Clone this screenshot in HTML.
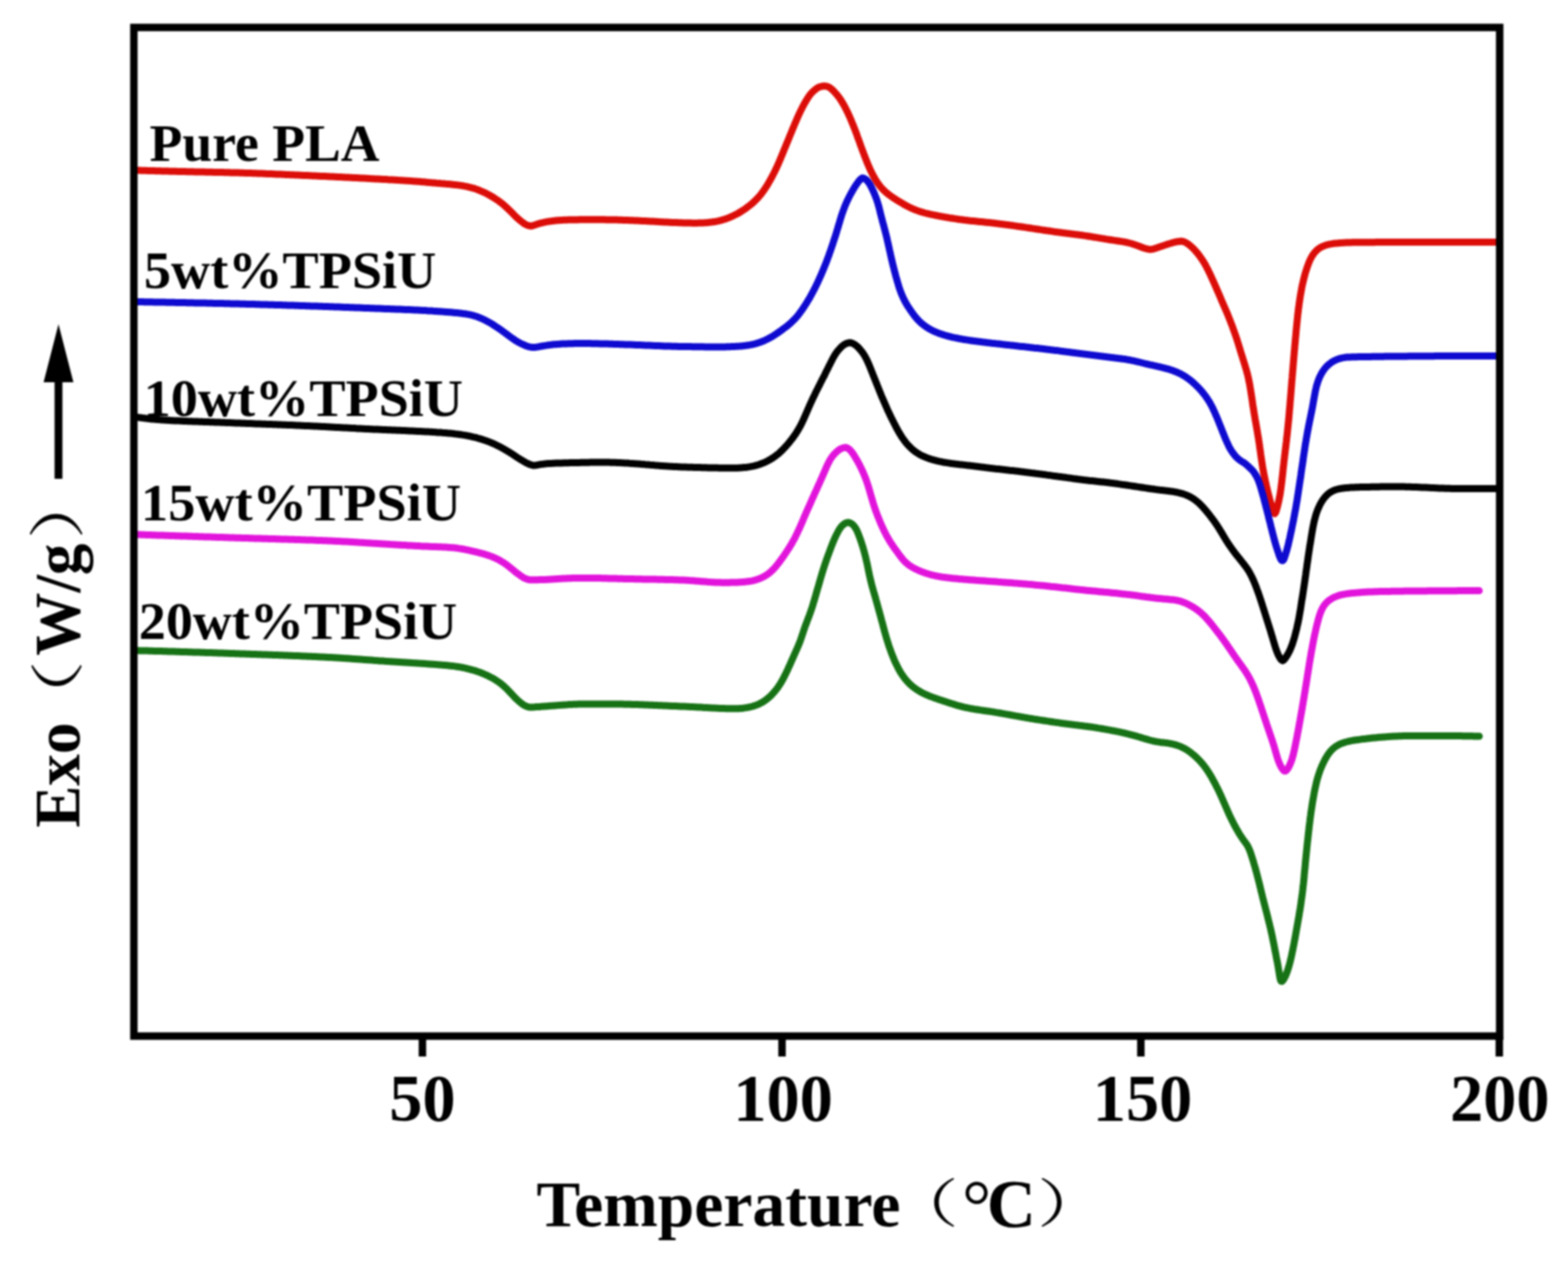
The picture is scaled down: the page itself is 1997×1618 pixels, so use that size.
<!DOCTYPE html>
<html><head><meta charset="utf-8"><title>DSC curves</title>
<style>
html,body{margin:0;padding:0;background:#fff;overflow:hidden;}
svg{display:block;filter:blur(0.9px);}
.t{font-family:'Liberation Serif','Times New Roman',serif;font-weight:bold;fill:#000;}
.c{font-family:'Liberation Serif','Noto Serif CJK SC',serif;font-weight:normal;fill:#000;}
</style></head><body>
<svg width="1997" height="1618" viewBox="0 0 1997 1618">
<rect x="0" y="0" width="1997" height="1618" fill="#fff"/>
<g fill="none" stroke-width="9" stroke-linecap="round" stroke-linejoin="round">
<path d="M174.0,217.0 176.0,217.1 178.0,217.1 180.0,217.2 182.0,217.2 184.0,217.3 186.0,217.3 188.0,217.4 190.0,217.5 192.0,217.5 194.0,217.6 196.0,217.6 198.0,217.7 200.0,217.7 202.0,217.8 204.0,217.8 206.0,217.9 208.0,217.9 210.0,218.0 212.0,218.0 214.0,218.1 216.0,218.2 218.0,218.2 220.0,218.3 222.0,218.3 224.0,218.3 226.0,218.4 228.0,218.4 230.0,218.5 232.0,218.5 234.0,218.6 236.0,218.6 238.0,218.7 240.0,218.7 242.0,218.8 244.0,218.8 246.0,218.8 248.0,218.9 250.0,218.9 252.0,219.0 254.0,219.0 256.0,219.0 258.0,219.1 260.0,219.1 262.0,219.2 264.0,219.2 266.0,219.2 268.0,219.3 270.0,219.3 272.0,219.4 274.0,219.4 276.0,219.4 278.0,219.5 280.0,219.5 282.0,219.6 284.0,219.6 286.0,219.7 288.0,219.7 290.0,219.8 292.0,219.8 294.0,219.9 296.0,219.9 298.0,220.0 300.0,220.0 302.0,220.1 304.0,220.1 306.0,220.2 308.0,220.2 310.0,220.3 312.0,220.4 314.0,220.4 316.0,220.5 318.0,220.6 320.0,220.6 322.0,220.7 324.0,220.8 325.9,220.8 327.9,220.9 329.9,221.0 331.9,221.1 333.9,221.1 335.9,221.2 337.9,221.3 339.9,221.4 341.9,221.5 343.9,221.5 345.9,221.6 347.9,221.7 349.9,221.8 351.9,221.9 353.9,222.0 355.9,222.0 357.9,222.1 359.9,222.2 361.9,222.3 363.9,222.4 365.9,222.5 367.9,222.6 369.9,222.7 371.9,222.7 373.9,222.8 375.9,222.9 377.9,223.0 379.9,223.1 381.9,223.2 383.9,223.3 385.9,223.4 387.9,223.5 389.9,223.5 391.9,223.6 393.9,223.7 395.9,223.8 397.9,223.9 399.9,224.0 401.9,224.1 403.9,224.2 405.9,224.3 407.9,224.4 409.9,224.5 411.9,224.5 413.9,224.6 415.9,224.7 417.9,224.8 419.9,224.9 421.9,225.0 423.9,225.1 425.9,225.2 427.9,225.3 429.8,225.4 431.8,225.5 433.8,225.6 435.8,225.7 437.8,225.8 439.8,225.9 441.8,226.0 443.8,226.1 445.8,226.2 447.8,226.3 449.8,226.4 451.8,226.5 453.8,226.6 455.8,226.7 457.8,226.8 459.8,226.9 461.8,227.0 463.8,227.1 465.8,227.2 467.8,227.3 469.8,227.4 471.8,227.6 473.8,227.7 475.8,227.8 477.8,227.9 479.8,228.0 481.8,228.1 483.8,228.2 485.8,228.3 487.8,228.4 489.8,228.5 491.8,228.6 493.8,228.8 495.8,228.9 497.8,229.0 499.8,229.1 501.7,229.2 503.7,229.3 505.7,229.4 507.7,229.6 509.7,229.7 511.7,229.8 513.7,229.9 515.7,230.1 517.7,230.2 519.7,230.3 521.7,230.4 523.7,230.6 525.7,230.7 527.7,230.9 529.7,231.0 531.7,231.2 533.7,231.3 535.7,231.5 537.7,231.7 539.7,231.8 541.6,232.0 543.6,232.2 545.6,232.4 547.6,232.6 549.6,232.7 551.6,232.9 553.6,233.1 555.6,233.3 557.6,233.4 559.6,233.6 561.6,233.8 563.6,233.9 565.6,234.1 567.5,234.3 569.5,234.4 571.5,234.6 573.5,234.8 575.5,235.0 577.5,235.2 579.5,235.4 581.5,235.6 583.5,235.9 585.4,236.1 587.4,236.4 589.4,236.7 591.4,237.1 593.3,237.4 595.3,237.9 597.2,238.3 599.2,238.8 601.1,239.3 603.0,239.8 604.9,240.4 606.8,241.1 608.6,241.8 610.5,242.5 612.3,243.3 614.2,244.1 616.0,244.9 617.8,245.7 619.6,246.6 621.3,247.6 623.1,248.5 624.8,249.5 626.6,250.5 628.3,251.5 630.0,252.6 631.6,253.7 633.3,254.8 634.9,255.9 636.5,257.1 638.1,258.3 639.7,259.6 641.2,260.8 642.7,262.1 644.2,263.5 645.7,264.8 647.1,266.2 648.6,267.6 650.0,269.0 651.4,270.4 652.8,271.8 654.2,273.2 655.6,274.7 657.0,276.1 658.4,277.4 659.9,278.8 661.4,280.0 662.9,281.3 664.4,282.5 666.0,283.7 667.6,284.9 669.3,285.8 671.1,286.7 673.0,287.4 674.9,287.8 676.9,287.9 678.8,287.4 680.7,286.8 682.6,286.1 684.5,285.5 686.4,284.9 688.3,284.4 690.2,283.9 692.2,283.5 694.1,283.0 696.1,282.6 698.0,282.3 700.0,281.9 702.0,281.7 703.9,281.4 705.9,281.2 707.9,281.0 709.9,280.8 711.9,280.7 713.9,280.5 715.9,280.4 717.9,280.3 719.9,280.2 721.9,280.2 723.9,280.1 725.9,280.0 727.9,280.0 729.9,280.0 731.9,279.9 733.9,279.9 735.9,279.9 737.9,279.8 739.9,279.8 741.9,279.8 743.9,279.8 745.9,279.8 747.9,279.8 749.9,279.8 751.9,279.8 753.9,279.8 755.9,279.8 757.9,279.8 759.9,279.8 761.9,279.8 763.9,279.8 765.9,279.8 767.9,279.8 769.9,279.8 771.9,279.9 773.9,279.9 775.9,279.9 777.9,279.9 779.9,280.0 781.9,280.0 783.9,280.1 785.9,280.1 787.9,280.2 789.9,280.3 791.9,280.3 793.9,280.4 795.9,280.5 797.9,280.5 799.9,280.6 801.9,280.7 803.9,280.8 805.9,280.8 807.9,280.9 809.9,281.0 811.9,281.1 813.9,281.2 815.8,281.3 817.8,281.4 819.8,281.5 821.8,281.6 823.8,281.7 825.8,281.8 827.8,281.9 829.8,282.0 831.8,282.1 833.8,282.2 835.8,282.3 837.8,282.4 839.8,282.6 841.8,282.7 843.8,282.8 845.8,282.9 847.8,283.0 849.8,283.1 851.8,283.2 853.8,283.3 855.8,283.4 857.8,283.5 859.8,283.6 861.8,283.6 863.8,283.7 865.8,283.8 867.8,283.8 869.8,283.9 871.8,284.0 873.8,284.0 875.8,284.1 877.8,284.1 879.8,284.1 881.8,284.2 883.8,284.2 885.8,284.2 887.8,284.2 889.8,284.1 891.8,284.1 893.8,284.0 895.8,283.9 897.8,283.8 899.7,283.7 901.7,283.5 903.7,283.3 905.7,283.1 907.7,282.8 909.7,282.5 911.6,282.2 913.6,281.8 915.5,281.4 917.5,280.9 919.4,280.4 921.3,279.8 923.2,279.2 925.1,278.6 926.9,277.9 928.8,277.2 930.6,276.4 932.4,275.6 934.2,274.7 936.0,273.8 937.8,272.9 939.6,272.0 941.3,271.0 943.0,270.0 944.7,268.9 946.4,267.8 948.1,266.7 949.7,265.6 951.3,264.4 952.9,263.2 954.5,262.0 956.0,260.8 957.6,259.5 959.1,258.2 960.5,256.8 962.0,255.4 963.4,254.0 964.7,252.6 966.1,251.1 967.4,249.6 968.7,248.1 969.9,246.5 971.1,244.9 972.3,243.3 973.4,241.7 974.5,240.0 975.6,238.4 976.7,236.7 977.7,235.0 978.7,233.2 979.7,231.5 980.7,229.8 981.7,228.0 982.6,226.3 983.6,224.5 984.5,222.7 985.4,221.0 986.3,219.2 987.2,217.4 988.1,215.6 988.9,213.8 989.8,212.0 990.6,210.1 991.4,208.3 992.2,206.5 993.0,204.6 993.8,202.8 994.5,201.0 995.3,199.1 996.1,197.3 996.8,195.4 997.6,193.6 998.3,191.7 999.1,189.8 999.9,188.0 1000.6,186.1 1001.4,184.3 1002.1,182.4 1002.9,180.6 1003.7,178.7 1004.4,176.9 1005.2,175.0 1005.9,173.2 1006.7,171.3 1007.5,169.5 1008.2,167.6 1009.0,165.8 1009.7,163.9 1010.5,162.1 1011.3,160.2 1012.0,158.4 1012.8,156.6 1013.6,154.7 1014.4,152.9 1015.2,151.0 1016.0,149.2 1016.8,147.4 1017.6,145.6 1018.5,143.8 1019.3,142.0 1020.2,140.2 1021.1,138.4 1022.0,136.6 1023.0,134.8 1023.9,133.1 1024.9,131.3 1025.9,129.6 1026.9,127.9 1027.9,126.2 1029.0,124.5 1030.1,122.9 1031.2,121.3 1032.5,119.8 1033.7,118.3 1035.1,116.9 1036.5,115.7 1037.9,114.4 1039.4,113.2 1041.0,112.1 1042.7,111.2 1044.6,110.5 1046.5,110.0 1048.5,109.7 1050.4,109.6 1052.4,109.9 1054.3,110.4 1056.1,111.3 1057.7,112.3 1059.2,113.6 1060.6,114.9 1062.0,116.3 1063.3,117.7 1064.6,119.2 1065.9,120.6 1067.1,122.2 1068.3,123.8 1069.5,125.4 1070.6,127.0 1071.7,128.7 1072.7,130.4 1073.7,132.1 1074.7,133.8 1075.7,135.6 1076.6,137.4 1077.5,139.1 1078.4,140.9 1079.3,142.7 1080.1,144.5 1081.0,146.4 1081.8,148.2 1082.6,150.0 1083.4,151.8 1084.2,153.7 1084.9,155.5 1085.7,157.4 1086.5,159.2 1087.2,161.1 1087.9,162.9 1088.7,164.8 1089.4,166.7 1090.1,168.5 1090.8,170.4 1091.5,172.3 1092.1,174.2 1092.8,176.1 1093.5,177.9 1094.2,179.8 1094.9,181.7 1095.5,183.6 1096.2,185.5 1096.9,187.3 1097.6,189.2 1098.3,191.1 1099.0,193.0 1099.7,194.8 1100.4,196.7 1101.1,198.6 1101.8,200.4 1102.5,202.3 1103.3,204.2 1104.0,206.0 1104.7,207.9 1105.5,209.7 1106.3,211.6 1107.1,213.4 1107.9,215.2 1108.7,217.0 1109.6,218.8 1110.5,220.6 1111.4,222.4 1112.4,224.2 1113.3,225.9 1114.3,227.6 1115.3,229.4 1116.4,231.0 1117.5,232.7 1118.6,234.3 1119.8,235.9 1121.1,237.5 1122.3,239.0 1123.7,240.5 1125.0,241.9 1126.5,243.3 1127.9,244.6 1129.4,245.9 1131.0,247.1 1132.6,248.4 1134.2,249.5 1135.8,250.7 1137.4,251.8 1139.1,252.9 1140.8,254.0 1142.5,255.1 1144.2,256.1 1145.9,257.2 1147.6,258.2 1149.3,259.2 1151.0,260.2 1152.8,261.2 1154.5,262.2 1156.3,263.1 1158.1,264.0 1159.9,264.8 1161.7,265.7 1163.5,266.5 1165.4,267.2 1167.2,267.9 1169.1,268.6 1171.0,269.3 1172.9,269.9 1174.8,270.4 1176.7,271.0 1178.6,271.5 1180.6,272.0 1182.5,272.4 1184.5,272.9 1186.4,273.3 1188.4,273.7 1190.3,274.1 1192.3,274.5 1194.3,274.9 1196.2,275.3 1198.2,275.6 1200.2,276.0 1202.1,276.3 1204.1,276.7 1206.1,277.0 1208.0,277.4 1210.0,277.7 1212.0,278.0 1214.0,278.3 1215.9,278.6 1217.9,278.9 1219.9,279.2 1221.9,279.5 1223.9,279.7 1225.8,280.0 1227.8,280.3 1229.8,280.5 1231.8,280.7 1233.8,281.0 1235.8,281.2 1237.8,281.4 1239.7,281.6 1241.7,281.8 1243.7,282.0 1245.7,282.2 1247.7,282.4 1249.7,282.6 1251.7,282.8 1253.7,283.0 1255.7,283.2 1257.7,283.4 1259.6,283.6 1261.6,283.8 1263.6,284.1 1265.6,284.3 1267.6,284.5 1269.6,284.8 1271.6,285.0 1273.5,285.3 1275.5,285.5 1277.5,285.8 1279.5,286.0 1281.5,286.3 1283.5,286.5 1285.4,286.8 1287.4,287.1 1289.4,287.3 1291.4,287.6 1293.4,287.9 1295.4,288.2 1297.3,288.4 1299.3,288.7 1301.3,289.0 1303.3,289.3 1305.3,289.6 1307.2,289.9 1309.2,290.2 1311.2,290.5 1313.2,290.8 1315.1,291.1 1317.1,291.4 1319.1,291.7 1321.1,292.0 1323.1,292.3 1325.0,292.6 1327.0,292.9 1329.0,293.2 1331.0,293.5 1332.9,293.8 1334.9,294.0 1336.9,294.3 1338.9,294.6 1340.9,294.9 1342.8,295.2 1344.8,295.4 1346.8,295.7 1348.8,295.9 1350.8,296.2 1352.8,296.5 1354.7,296.7 1356.7,297.0 1358.7,297.2 1360.7,297.5 1362.7,297.7 1364.7,298.0 1366.6,298.2 1368.6,298.5 1370.6,298.7 1372.6,299.0 1374.6,299.3 1376.6,299.6 1378.5,299.8 1380.5,300.1 1382.5,300.4 1384.5,300.7 1386.4,301.0 1388.4,301.3 1390.4,301.6 1392.4,302.0 1394.3,302.3 1396.3,302.6 1398.3,302.9 1400.3,303.3 1402.2,303.6 1404.2,303.9 1406.2,304.2 1408.2,304.6 1410.1,304.9 1412.1,305.2 1414.1,305.5 1416.1,305.8 1418.0,306.1 1420.0,306.4 1422.0,306.7 1424.0,307.0 1425.9,307.3 1427.9,307.6 1429.9,307.9 1431.9,308.2 1433.8,308.6 1435.8,309.0 1437.7,309.5 1439.6,310.0 1441.5,310.5 1443.4,311.1 1445.3,311.8 1447.2,312.4 1449.0,313.1 1450.9,313.7 1452.8,314.5 1454.6,315.2 1456.5,315.9 1458.4,316.5 1460.3,317.0 1462.3,317.4 1464.2,317.7 1466.2,317.7 1468.2,317.3 1470.1,316.8 1472.0,316.2 1473.9,315.6 1475.8,314.9 1477.7,314.3 1479.6,313.6 1481.5,313.0 1483.3,312.4 1485.2,311.7 1487.1,311.1 1489.0,310.5 1490.9,310.0 1492.8,309.4 1494.8,308.9 1496.7,308.4 1498.6,308.0 1500.6,307.7 1502.6,307.5 1504.6,307.3 1506.6,307.6 1508.4,308.2 1510.2,309.1 1512.0,310.1 1513.6,311.2 1515.1,312.4 1516.6,313.7 1518.0,315.0 1519.5,316.4 1520.9,317.8 1522.2,319.2 1523.5,320.7 1524.8,322.2 1526.1,323.8 1527.3,325.4 1528.4,327.0 1529.6,328.6 1530.7,330.3 1531.8,331.9 1532.9,333.6 1533.9,335.3 1534.9,337.1 1535.9,338.8 1536.8,340.6 1537.7,342.3 1538.6,344.1 1539.5,345.9 1540.4,347.7 1541.2,349.5 1542.1,351.3 1542.9,353.1 1543.7,355.0 1544.6,356.8 1545.4,358.6 1546.2,360.4 1547.0,362.3 1547.8,364.1 1548.6,365.9 1549.4,367.8 1550.2,369.6 1551.0,371.4 1551.8,373.3 1552.6,375.1 1553.4,376.9 1554.2,378.8 1554.9,380.6 1555.7,382.5 1556.5,384.3 1557.3,386.1 1558.1,388.0 1558.9,389.8 1559.7,391.6 1560.5,393.5 1561.3,395.3 1562.1,397.1 1562.9,399.0 1563.6,400.8 1564.4,402.7 1565.1,404.5 1565.9,406.4 1566.6,408.3 1567.3,410.1 1568.0,412.0 1568.8,413.9 1569.5,415.7 1570.1,417.6 1570.8,419.5 1571.5,421.4 1572.2,423.3 1572.8,425.1 1573.5,427.0 1574.1,428.9 1574.8,430.8 1575.4,432.7 1576.0,434.6 1576.6,436.5 1577.2,438.4 1577.8,440.4 1578.4,442.3 1579.0,444.2 1579.5,446.1 1580.1,448.0 1580.7,449.9 1581.3,451.8 1581.9,453.7 1582.5,455.6 1583.1,457.6 1583.7,459.5 1584.3,461.4 1584.9,463.3 1585.5,465.2 1586.0,467.1 1586.6,469.0 1587.2,470.9 1587.7,472.9 1588.2,474.8 1588.8,476.7 1589.2,478.7 1589.7,480.6 1590.1,482.5 1590.5,484.5 1590.9,486.5 1591.3,488.4 1591.7,490.4 1592.0,492.4 1592.3,494.3 1592.7,496.3 1593.0,498.3 1593.3,500.3 1593.6,502.2 1593.9,504.2 1594.2,506.2 1594.5,508.2 1594.8,510.1 1595.1,512.1 1595.3,514.1 1595.6,516.1 1595.9,518.1 1596.3,520.0 1596.6,522.0 1596.9,524.0 1597.2,526.0 1597.5,527.9 1597.9,529.9 1598.2,531.9 1598.5,533.8 1598.9,535.8 1599.2,537.8 1599.6,539.8 1599.9,541.7 1600.2,543.7 1600.6,545.7 1600.9,547.6 1601.3,549.6 1601.6,551.6 1601.9,553.6 1602.2,555.5 1602.6,557.5 1602.9,559.5 1603.2,561.5 1603.5,563.4 1603.8,565.4 1604.1,567.4 1604.3,569.4 1604.6,571.4 1604.9,573.3 1605.2,575.3 1605.5,577.3 1605.7,579.3 1606.0,581.3 1606.3,583.2 1606.6,585.2 1606.9,587.2 1607.2,589.2 1607.5,591.1 1607.8,593.1 1608.1,595.1 1608.4,597.1 1608.8,599.0 1609.1,601.0 1609.5,603.0 1609.9,604.9 1610.3,606.9 1610.7,608.9 1611.1,610.8 1611.5,612.8 1611.9,614.7 1612.4,616.7 1612.8,618.6 1613.2,620.6 1613.7,622.5 1614.2,624.5 1614.6,626.4 1615.1,628.4 1615.6,630.3 1616.1,632.2 1616.6,634.2 1617.1,636.1 1617.6,638.0 1618.1,640.0 1618.7,641.9 1619.2,643.8 1619.8,645.7 1620.4,647.6 1620.9,649.6 1621.6,651.4 1622.3,653.2 1623.4,654.4 1624.4,653.4 1625.1,651.7 1625.7,649.8 1626.2,647.9 1626.8,645.9 1627.3,644.0 1627.7,642.1 1628.2,640.1 1628.6,638.2 1629.1,636.2 1629.4,634.2 1629.8,632.3 1630.2,630.3 1630.5,628.3 1630.8,626.4 1631.1,624.4 1631.4,622.4 1631.6,620.4 1631.9,618.4 1632.1,616.5 1632.4,614.5 1632.6,612.5 1632.8,610.5 1633.0,608.5 1633.3,606.5 1633.5,604.5 1633.7,602.5 1633.9,600.6 1634.1,598.6 1634.3,596.6 1634.5,594.6 1634.8,592.6 1635.0,590.6 1635.2,588.6 1635.4,586.6 1635.7,584.6 1635.9,582.7 1636.1,580.7 1636.4,578.7 1636.6,576.7 1636.8,574.7 1637.1,572.7 1637.3,570.7 1637.6,568.8 1637.8,566.8 1638.0,564.8 1638.3,562.8 1638.5,560.8 1638.7,558.8 1638.9,556.8 1639.2,554.9 1639.4,552.9 1639.6,550.9 1639.8,548.9 1640.0,546.9 1640.2,544.9 1640.4,542.9 1640.6,540.9 1640.8,538.9 1641.0,537.0 1641.2,535.0 1641.4,533.0 1641.6,531.0 1641.7,529.0 1641.9,527.0 1642.1,525.0 1642.2,523.0 1642.4,521.0 1642.6,519.0 1642.8,517.0 1642.9,515.0 1643.1,513.0 1643.2,511.0 1643.4,509.1 1643.6,507.1 1643.7,505.1 1643.9,503.1 1644.1,501.1 1644.2,499.1 1644.4,497.1 1644.5,495.1 1644.7,493.1 1644.9,491.1 1645.0,489.1 1645.2,487.1 1645.3,485.1 1645.5,483.1 1645.7,481.1 1645.8,479.2 1646.0,477.2 1646.2,475.2 1646.3,473.2 1646.5,471.2 1646.7,469.2 1646.8,467.2 1647.0,465.2 1647.2,463.2 1647.3,461.2 1647.5,459.2 1647.7,457.2 1647.8,455.2 1648.0,453.2 1648.2,451.2 1648.3,449.3 1648.5,447.3 1648.7,445.3 1648.9,443.3 1649.0,441.3 1649.2,439.3 1649.4,437.3 1649.6,435.3 1649.7,433.3 1649.9,431.3 1650.1,429.3 1650.3,427.3 1650.5,425.4 1650.6,423.4 1650.8,421.4 1651.0,419.4 1651.2,417.4 1651.4,415.4 1651.6,413.4 1651.8,411.4 1652.0,409.4 1652.2,407.4 1652.4,405.4 1652.6,403.5 1652.8,401.5 1653.0,399.5 1653.3,397.5 1653.5,395.5 1653.7,393.5 1654.0,391.5 1654.3,389.6 1654.5,387.6 1654.8,385.6 1655.1,383.6 1655.4,381.6 1655.7,379.7 1656.0,377.7 1656.3,375.7 1656.7,373.7 1657.0,371.8 1657.4,369.8 1657.7,367.8 1658.1,365.9 1658.5,363.9 1658.9,362.0 1659.4,360.0 1659.8,358.1 1660.3,356.1 1660.8,354.2 1661.3,352.2 1661.8,350.3 1662.3,348.4 1662.9,346.5 1663.5,344.6 1664.1,342.7 1664.7,340.8 1665.4,338.9 1666.1,337.0 1666.8,335.2 1667.5,333.3 1668.3,331.5 1669.2,329.7 1670.1,328.0 1671.1,326.3 1672.1,324.6 1673.3,323.0 1674.5,321.5 1675.8,320.1 1677.2,318.7 1678.6,317.5 1680.2,316.3 1681.8,315.3 1683.5,314.4 1685.3,313.6 1687.1,312.9 1688.9,312.3 1690.8,311.7 1692.7,311.3 1694.7,310.9 1696.6,310.6 1698.6,310.3 1700.6,310.1 1702.6,309.9 1704.5,309.7 1706.5,309.5 1708.5,309.4 1710.5,309.3 1712.5,309.2 1714.5,309.1 1716.5,309.0 1718.5,308.9 1720.5,308.9 1722.5,308.8 1724.5,308.8 1726.5,308.8 1728.5,308.8 1730.5,308.8 1732.5,308.7 1734.5,308.7 1736.5,308.7 1738.5,308.7 1740.5,308.7 1742.5,308.7 1744.5,308.7 1746.5,308.7 1748.5,308.7 1750.5,308.7 1752.5,308.6 1754.5,308.6 1756.5,308.6 1758.5,308.6 1760.5,308.6 1762.5,308.6 1764.5,308.6 1766.5,308.6 1768.5,308.6 1770.5,308.6 1772.5,308.6 1774.5,308.6 1776.5,308.6 1778.5,308.6 1780.5,308.6 1782.5,308.5 1784.5,308.5 1786.5,308.5 1788.5,308.5 1790.5,308.5 1792.5,308.5 1794.5,308.5 1796.5,308.5 1798.5,308.5 1800.5,308.5 1802.5,308.5 1804.5,308.5 1806.5,308.5 1808.5,308.5 1810.5,308.5 1812.5,308.5 1814.5,308.5 1816.5,308.5 1818.5,308.5 1820.5,308.5 1822.5,308.5 1824.5,308.5 1826.5,308.5 1828.5,308.4 1830.5,308.4 1832.5,308.4 1834.5,308.4 1836.5,308.4 1838.5,308.4 1840.5,308.4 1842.5,308.4 1844.5,308.4 1846.5,308.4 1848.5,308.4 1850.5,308.4 1852.5,308.4 1854.5,308.4 1856.5,308.4 1858.5,308.4 1860.5,308.4 1862.5,308.4 1864.5,308.4 1866.5,308.4 1868.5,308.4 1870.5,308.4 1872.5,308.4 1874.5,308.4 1876.5,308.4 1878.5,308.4 1880.5,308.4 1882.5,308.4 1884.5,308.4 1886.5,308.4 1888.5,308.4 1890.5,308.4 1892.5,308.4 1894.5,308.4 1896.5,308.4 1898.5,308.4 1900.5,308.4 1902.5,308.4 1904.5,308.4 1906.5,308.4 1908.0,308.4" stroke="#dc0d08"/>
<path d="M174.0,384.5 176.0,384.5 178.0,384.6 180.0,384.6 182.0,384.6 184.0,384.7 186.0,384.7 188.0,384.7 190.0,384.8 192.0,384.8 194.0,384.8 196.0,384.9 198.0,384.9 200.0,384.9 202.0,385.0 204.0,385.0 206.0,385.1 208.0,385.1 210.0,385.1 212.0,385.2 214.0,385.2 216.0,385.2 218.0,385.3 220.0,385.3 222.0,385.3 224.0,385.4 226.0,385.4 228.0,385.5 230.0,385.5 232.0,385.5 234.0,385.6 236.0,385.6 238.0,385.7 240.0,385.7 242.0,385.7 244.0,385.8 246.0,385.8 248.0,385.9 250.0,385.9 252.0,385.9 254.0,386.0 256.0,386.0 258.0,386.1 260.0,386.1 262.0,386.1 264.0,386.2 266.0,386.2 268.0,386.3 270.0,386.3 272.0,386.4 274.0,386.4 276.0,386.4 278.0,386.5 280.0,386.5 282.0,386.6 284.0,386.6 286.0,386.7 288.0,386.7 290.0,386.8 292.0,386.8 294.0,386.9 296.0,386.9 298.0,387.0 300.0,387.0 302.0,387.1 304.0,387.1 306.0,387.2 308.0,387.2 310.0,387.3 312.0,387.3 314.0,387.4 316.0,387.4 318.0,387.5 320.0,387.5 322.0,387.6 324.0,387.6 326.0,387.7 328.0,387.7 330.0,387.8 332.0,387.9 334.0,387.9 336.0,388.0 338.0,388.0 340.0,388.1 342.0,388.2 344.0,388.2 346.0,388.3 348.0,388.3 350.0,388.4 352.0,388.5 354.0,388.5 356.0,388.6 358.0,388.6 360.0,388.7 361.9,388.8 363.9,388.8 365.9,388.9 367.9,389.0 369.9,389.0 371.9,389.1 373.9,389.1 375.9,389.2 377.9,389.3 379.9,389.3 381.9,389.4 383.9,389.5 385.9,389.5 387.9,389.6 389.9,389.7 391.9,389.7 393.9,389.8 395.9,389.9 397.9,389.9 399.9,390.0 401.9,390.1 403.9,390.1 405.9,390.2 407.9,390.3 409.9,390.3 411.9,390.4 413.9,390.5 415.9,390.6 417.9,390.6 419.9,390.7 421.9,390.8 423.9,390.8 425.9,390.9 427.9,391.0 429.9,391.1 431.9,391.1 433.9,391.2 435.9,391.3 437.9,391.4 439.9,391.4 441.9,391.5 443.9,391.6 445.9,391.7 447.9,391.8 449.9,391.8 451.9,391.9 453.9,392.0 455.9,392.1 457.9,392.1 459.9,392.2 461.9,392.3 463.9,392.4 465.9,392.4 467.9,392.5 469.9,392.6 471.9,392.7 473.9,392.8 475.9,392.8 477.9,392.9 479.9,393.0 481.9,393.1 483.9,393.1 485.9,393.2 487.9,393.3 489.9,393.4 491.9,393.4 493.9,393.5 495.9,393.6 497.9,393.7 499.9,393.7 501.9,393.8 503.9,393.9 505.9,394.0 507.9,394.1 509.9,394.1 511.9,394.2 513.8,394.3 515.8,394.4 517.8,394.5 519.8,394.5 521.8,394.6 523.8,394.7 525.8,394.8 527.8,394.9 529.8,395.0 531.8,395.1 533.8,395.2 535.8,395.3 537.8,395.4 539.8,395.5 541.8,395.6 543.8,395.8 545.8,395.9 547.8,396.0 549.8,396.1 551.8,396.3 553.8,396.4 555.8,396.5 557.8,396.7 559.8,396.8 561.8,396.9 563.8,397.1 565.8,397.2 567.8,397.4 569.8,397.5 571.7,397.7 573.7,397.8 575.7,398.0 577.7,398.2 579.7,398.4 581.7,398.6 583.7,398.8 585.7,399.0 587.7,399.2 589.6,399.5 591.6,399.7 593.6,400.0 595.6,400.4 597.5,400.7 599.5,401.2 601.4,401.6 603.3,402.1 605.2,402.7 607.1,403.3 609.0,404.0 610.8,404.8 612.7,405.5 614.5,406.3 616.3,407.2 618.1,408.1 619.8,409.0 621.6,409.9 623.3,410.9 625.1,411.9 626.8,412.9 628.5,414.0 630.2,415.1 631.8,416.2 633.5,417.3 635.1,418.4 636.8,419.5 638.4,420.7 640.0,421.9 641.6,423.0 643.2,424.2 644.9,425.4 646.5,426.6 648.1,427.8 649.7,429.0 651.3,430.2 652.9,431.3 654.6,432.4 656.2,433.6 657.9,434.6 659.6,435.6 661.3,436.6 663.1,437.5 664.9,438.3 666.7,439.1 668.5,440.0 670.3,440.7 672.2,441.3 674.1,441.8 676.1,442.2 678.0,442.5 680.0,442.6 682.0,442.4 684.0,442.1 686.0,441.8 687.9,441.4 689.9,441.0 691.9,440.7 693.8,440.4 695.8,440.1 697.8,439.8 699.8,439.5 701.7,439.3 703.7,439.0 705.7,438.8 707.7,438.7 709.7,438.5 711.7,438.4 713.7,438.2 715.7,438.1 717.7,438.0 719.7,438.0 721.7,437.9 723.7,437.8 725.7,437.8 727.7,437.7 729.7,437.7 731.7,437.6 733.7,437.6 735.7,437.6 737.7,437.6 739.7,437.6 741.7,437.6 743.7,437.6 745.7,437.6 747.7,437.6 749.7,437.6 751.7,437.6 753.7,437.7 755.7,437.7 757.7,437.7 759.7,437.8 761.7,437.8 763.7,437.9 765.7,437.9 767.7,438.0 769.7,438.0 771.7,438.1 773.7,438.1 775.7,438.2 777.7,438.3 779.7,438.3 781.7,438.4 783.7,438.5 785.7,438.5 787.7,438.6 789.7,438.7 791.7,438.7 793.7,438.8 795.7,438.9 797.7,438.9 799.7,439.0 801.7,439.1 803.6,439.1 805.6,439.2 807.6,439.3 809.6,439.4 811.6,439.4 813.6,439.5 815.6,439.6 817.6,439.7 819.6,439.8 821.6,439.9 823.6,440.0 825.6,440.0 827.6,440.1 829.6,440.2 831.6,440.3 833.6,440.4 835.6,440.5 837.6,440.6 839.6,440.6 841.6,440.7 843.6,440.8 845.6,440.9 847.6,440.9 849.6,441.0 851.6,441.1 853.6,441.1 855.6,441.2 857.6,441.2 859.6,441.3 861.6,441.3 863.6,441.4 865.6,441.4 867.6,441.4 869.6,441.5 871.6,441.5 873.6,441.5 875.6,441.6 877.6,441.6 879.6,441.6 881.6,441.7 883.6,441.7 885.6,441.7 887.6,441.7 889.6,441.8 891.6,441.8 893.6,441.8 895.6,441.8 897.6,441.9 899.6,441.9 901.6,441.9 903.6,441.9 905.6,441.9 907.6,441.9 909.6,442.0 911.6,442.0 913.6,442.0 915.6,442.0 917.6,442.0 919.6,441.9 921.6,441.9 923.6,441.9 925.6,441.8 927.6,441.8 929.6,441.7 931.6,441.6 933.6,441.6 935.6,441.4 937.6,441.3 939.6,441.2 941.6,441.1 943.6,440.9 945.6,440.7 947.5,440.5 949.5,440.3 951.5,440.0 953.5,439.7 955.4,439.4 957.4,439.0 959.3,438.6 961.3,438.1 963.2,437.6 965.1,437.0 967.0,436.4 968.9,435.7 970.7,435.0 972.6,434.3 974.4,433.5 976.2,432.6 978.0,431.7 979.7,430.8 981.5,429.8 983.2,428.8 984.9,427.8 986.6,426.7 988.2,425.6 989.9,424.5 991.6,423.4 993.2,422.2 994.8,421.1 996.4,419.9 998.0,418.7 999.6,417.5 1001.2,416.3 1002.8,415.1 1004.3,413.8 1005.9,412.5 1007.3,411.2 1008.8,409.8 1010.2,408.4 1011.6,407.0 1013.0,405.6 1014.3,404.1 1015.6,402.6 1016.9,401.0 1018.1,399.4 1019.3,397.8 1020.4,396.2 1021.6,394.6 1022.7,393.0 1023.8,391.3 1024.9,389.6 1026.0,387.9 1027.1,386.2 1028.1,384.5 1029.1,382.8 1030.2,381.1 1031.2,379.4 1032.2,377.6 1033.1,375.9 1034.1,374.1 1035.0,372.4 1036.0,370.6 1036.9,368.8 1037.8,367.1 1038.7,365.3 1039.6,363.5 1040.4,361.7 1041.3,359.9 1042.1,358.1 1043.0,356.2 1043.8,354.4 1044.6,352.6 1045.4,350.8 1046.2,348.9 1047.0,347.1 1047.8,345.2 1048.6,343.4 1049.3,341.6 1050.1,339.7 1050.8,337.8 1051.6,336.0 1052.3,334.1 1053.0,332.3 1053.7,330.4 1054.4,328.5 1055.1,326.6 1055.8,324.8 1056.4,322.9 1057.1,321.0 1057.8,319.1 1058.4,317.2 1059.1,315.3 1059.7,313.4 1060.4,311.5 1061.0,309.6 1061.6,307.7 1062.2,305.8 1062.9,303.9 1063.5,302.0 1064.1,300.1 1064.7,298.2 1065.3,296.3 1065.8,294.4 1066.4,292.5 1067.0,290.6 1067.6,288.6 1068.1,286.7 1068.7,284.8 1069.3,282.9 1069.8,281.0 1070.4,279.1 1071.0,277.1 1071.6,275.2 1072.2,273.3 1072.9,271.4 1073.5,269.6 1074.2,267.7 1074.9,265.8 1075.6,263.9 1076.3,262.1 1077.1,260.2 1077.9,258.4 1078.7,256.6 1079.6,254.8 1080.4,253.0 1081.3,251.2 1082.2,249.4 1083.2,247.6 1084.1,245.9 1085.1,244.2 1086.1,242.4 1087.1,240.7 1088.1,239.0 1089.2,237.3 1090.3,235.6 1091.4,234.0 1092.6,232.4 1093.8,230.8 1095.1,229.3 1096.5,227.9 1098.0,226.8 1099.9,227.0 1101.6,227.9 1103.2,229.0 1104.6,230.4 1105.8,231.9 1106.9,233.5 1108.0,235.1 1108.9,236.9 1109.8,238.6 1110.7,240.4 1111.5,242.2 1112.4,244.0 1113.2,245.8 1113.9,247.7 1114.7,249.5 1115.4,251.4 1116.1,253.2 1116.8,255.1 1117.4,257.0 1118.0,258.9 1118.5,260.8 1119.1,262.7 1119.6,264.7 1120.1,266.6 1120.6,268.6 1121.0,270.5 1121.5,272.4 1122.0,274.4 1122.5,276.3 1123.0,278.2 1123.5,280.2 1124.0,282.1 1124.5,284.0 1125.1,286.0 1125.6,287.9 1126.1,289.8 1126.6,291.8 1127.1,293.7 1127.6,295.6 1128.1,297.6 1128.6,299.5 1129.1,301.5 1129.5,303.4 1130.0,305.4 1130.4,307.3 1130.9,309.3 1131.3,311.2 1131.7,313.2 1132.2,315.1 1132.6,317.1 1133.0,319.0 1133.5,321.0 1133.9,322.9 1134.3,324.9 1134.8,326.8 1135.2,328.8 1135.6,330.7 1136.1,332.7 1136.6,334.6 1137.0,336.6 1137.5,338.5 1138.0,340.4 1138.5,342.4 1139.0,344.3 1139.5,346.3 1140.0,348.2 1140.5,350.1 1141.0,352.1 1141.6,354.0 1142.1,355.9 1142.6,357.8 1143.2,359.8 1143.8,361.7 1144.3,363.6 1144.9,365.5 1145.5,367.4 1146.2,369.3 1146.9,371.2 1147.6,373.0 1148.3,374.9 1149.1,376.7 1149.9,378.5 1150.7,380.3 1151.6,382.1 1152.5,383.9 1153.5,385.6 1154.5,387.4 1155.5,389.1 1156.6,390.8 1157.7,392.4 1158.8,394.1 1159.9,395.7 1161.1,397.4 1162.2,399.0 1163.4,400.6 1164.6,402.2 1165.8,403.8 1167.1,405.3 1168.4,406.8 1169.8,408.2 1171.2,409.6 1172.6,411.0 1174.1,412.3 1175.7,413.6 1177.2,414.8 1178.8,415.9 1180.5,417.0 1182.2,418.1 1183.9,419.1 1185.6,420.1 1187.4,421.0 1189.2,421.9 1191.0,422.7 1192.8,423.4 1194.7,424.2 1196.5,424.9 1198.4,425.5 1200.3,426.1 1202.2,426.7 1204.1,427.3 1206.1,427.8 1208.0,428.3 1209.9,428.8 1211.9,429.3 1213.8,429.8 1215.8,430.2 1217.7,430.6 1219.7,431.0 1221.6,431.4 1223.6,431.8 1225.6,432.1 1227.5,432.5 1229.5,432.8 1231.5,433.1 1233.5,433.4 1235.4,433.7 1237.4,434.0 1239.4,434.3 1241.4,434.6 1243.4,434.8 1245.3,435.1 1247.3,435.3 1249.3,435.5 1251.3,435.8 1253.3,436.0 1255.3,436.2 1257.3,436.5 1259.2,436.7 1261.2,436.9 1263.2,437.2 1265.2,437.4 1267.2,437.6 1269.2,437.9 1271.2,438.1 1273.2,438.3 1275.1,438.5 1277.1,438.8 1279.1,439.0 1281.1,439.2 1283.1,439.4 1285.1,439.6 1287.1,439.9 1289.1,440.1 1291.0,440.3 1293.0,440.5 1295.0,440.7 1297.0,441.0 1299.0,441.2 1301.0,441.4 1303.0,441.6 1305.0,441.8 1306.9,442.1 1308.9,442.3 1310.9,442.5 1312.9,442.7 1314.9,442.9 1316.9,443.2 1318.9,443.4 1320.9,443.6 1322.8,443.8 1324.8,444.1 1326.8,444.3 1328.8,444.5 1330.8,444.7 1332.8,445.0 1334.8,445.2 1336.8,445.4 1338.7,445.7 1340.7,445.9 1342.7,446.2 1344.7,446.4 1346.7,446.6 1348.7,446.9 1350.7,447.2 1352.6,447.4 1354.6,447.7 1356.6,447.9 1358.6,448.2 1360.6,448.4 1362.6,448.7 1364.5,449.0 1366.5,449.2 1368.5,449.5 1370.5,449.8 1372.5,450.0 1374.4,450.3 1376.4,450.5 1378.4,450.8 1380.4,451.0 1382.4,451.3 1384.4,451.5 1386.4,451.8 1388.3,452.0 1390.3,452.3 1392.3,452.5 1394.3,452.8 1396.3,453.0 1398.3,453.3 1400.2,453.5 1402.2,453.8 1404.2,454.0 1406.2,454.3 1408.2,454.5 1410.2,454.8 1412.2,455.0 1414.1,455.3 1416.1,455.5 1418.1,455.7 1420.1,456.0 1422.1,456.2 1424.1,456.5 1426.0,456.7 1428.0,457.0 1430.0,457.3 1432.0,457.5 1434.0,457.8 1435.9,458.2 1437.9,458.5 1439.9,458.9 1441.8,459.3 1443.8,459.7 1445.7,460.1 1447.7,460.6 1449.6,461.0 1451.5,461.5 1453.5,462.0 1455.4,462.5 1457.4,463.0 1459.3,463.5 1461.3,463.9 1463.2,464.4 1465.1,464.8 1467.1,465.2 1469.1,465.7 1471.0,466.1 1473.0,466.5 1474.9,467.0 1476.9,467.4 1478.8,467.9 1480.8,468.3 1482.7,468.8 1484.6,469.3 1486.5,469.8 1488.5,470.4 1490.4,471.0 1492.3,471.6 1494.1,472.3 1496.0,473.0 1497.8,473.7 1499.7,474.5 1501.5,475.4 1503.3,476.2 1505.0,477.2 1506.8,478.1 1508.5,479.2 1510.2,480.2 1511.8,481.3 1513.4,482.5 1515.0,483.7 1516.6,484.9 1518.1,486.2 1519.6,487.5 1521.1,488.8 1522.6,490.2 1524.0,491.6 1525.4,493.0 1526.8,494.4 1528.1,495.9 1529.5,497.4 1530.8,498.9 1532.0,500.4 1533.3,502.0 1534.5,503.5 1535.7,505.2 1536.8,506.8 1537.9,508.4 1539.0,510.1 1540.1,511.8 1541.1,513.5 1542.0,515.3 1543.0,517.0 1543.9,518.8 1544.8,520.6 1545.6,522.4 1546.5,524.2 1547.3,526.0 1548.1,527.9 1548.9,529.7 1549.7,531.5 1550.5,533.4 1551.2,535.2 1552.0,537.1 1552.7,538.9 1553.5,540.8 1554.2,542.6 1554.9,544.5 1555.7,546.4 1556.4,548.2 1557.1,550.1 1557.9,551.9 1558.6,553.8 1559.4,555.7 1560.1,557.5 1560.9,559.3 1561.7,561.2 1562.5,563.0 1563.3,564.8 1564.2,566.6 1565.0,568.4 1565.9,570.2 1566.9,571.9 1567.9,573.6 1569.0,575.3 1570.1,576.9 1571.3,578.4 1572.5,580.0 1573.8,581.5 1575.1,582.9 1576.6,584.3 1578.1,585.5 1579.7,586.7 1581.4,587.8 1583.1,588.8 1584.8,589.9 1586.4,591.1 1587.9,592.4 1589.4,593.8 1590.8,595.1 1592.3,596.5 1593.7,597.9 1595.1,599.3 1596.3,600.8 1597.5,602.4 1598.5,604.0 1599.6,605.7 1600.5,607.4 1601.4,609.1 1602.2,610.9 1602.9,612.7 1603.6,614.6 1604.3,616.5 1604.9,618.4 1605.5,620.3 1606.0,622.2 1606.6,624.1 1607.1,626.0 1607.7,628.0 1608.2,629.9 1608.8,631.8 1609.3,633.7 1609.8,635.7 1610.3,637.6 1610.8,639.5 1611.3,641.5 1611.8,643.4 1612.3,645.3 1612.8,647.3 1613.3,649.2 1613.8,651.2 1614.3,653.1 1614.8,655.0 1615.3,657.0 1615.7,658.9 1616.2,660.9 1616.7,662.8 1617.2,664.7 1617.7,666.7 1618.2,668.6 1618.6,670.6 1619.1,672.5 1619.6,674.4 1620.1,676.4 1620.6,678.3 1621.1,680.3 1621.6,682.2 1622.1,684.1 1622.6,686.1 1623.1,688.0 1623.6,689.9 1624.2,691.9 1624.7,693.8 1625.3,695.7 1625.9,697.6 1626.5,699.5 1627.1,701.4 1627.8,703.3 1628.4,705.2 1629.0,707.1 1629.7,709.0 1630.5,710.8 1631.3,712.5 1632.4,714.0 1633.8,714.3 1634.9,712.9 1635.7,711.1 1636.3,709.2 1636.9,707.3 1637.5,705.4 1638.1,703.5 1638.7,701.6 1639.2,699.7 1639.7,697.7 1640.2,695.8 1640.7,693.8 1641.1,691.9 1641.6,689.9 1642.0,688.0 1642.5,686.0 1642.9,684.1 1643.3,682.1 1643.7,680.2 1644.2,678.2 1644.6,676.3 1645.0,674.3 1645.4,672.4 1645.8,670.4 1646.2,668.4 1646.6,666.5 1647.0,664.5 1647.4,662.6 1647.8,660.6 1648.1,658.6 1648.5,656.7 1648.9,654.7 1649.2,652.7 1649.6,650.8 1650.0,648.8 1650.3,646.8 1650.7,644.9 1651.0,642.9 1651.3,640.9 1651.7,638.9 1652.0,637.0 1652.3,635.0 1652.6,633.0 1652.9,631.0 1653.2,629.1 1653.5,627.1 1653.8,625.1 1654.1,623.1 1654.4,621.2 1654.7,619.2 1655.0,617.2 1655.3,615.2 1655.6,613.2 1655.9,611.3 1656.2,609.3 1656.5,607.3 1656.8,605.3 1657.0,603.3 1657.3,601.4 1657.6,599.4 1657.9,597.4 1658.2,595.4 1658.5,593.5 1658.8,591.5 1659.1,589.5 1659.4,587.5 1659.7,585.5 1659.9,583.6 1660.2,581.6 1660.5,579.6 1660.8,577.6 1661.1,575.6 1661.4,573.7 1661.7,571.7 1662.0,569.7 1662.3,567.7 1662.6,565.8 1662.9,563.8 1663.3,561.8 1663.6,559.8 1663.9,557.9 1664.3,555.9 1664.6,553.9 1665.0,552.0 1665.3,550.0 1665.7,548.0 1666.1,546.1 1666.4,544.1 1666.8,542.1 1667.2,540.2 1667.6,538.2 1668.0,536.3 1668.4,534.3 1668.8,532.3 1669.2,530.4 1669.6,528.4 1670.0,526.5 1670.4,524.5 1670.8,522.5 1671.2,520.6 1671.6,518.6 1671.9,516.6 1672.3,514.7 1672.6,512.7 1673.0,510.7 1673.3,508.8 1673.7,506.8 1674.0,504.8 1674.4,502.9 1674.8,500.9 1675.1,498.9 1675.5,497.0 1676.0,495.0 1676.4,493.1 1676.9,491.2 1677.5,489.3 1678.1,487.4 1678.7,485.5 1679.4,483.6 1680.1,481.8 1680.9,480.0 1681.8,478.2 1682.7,476.4 1683.7,474.7 1684.8,473.0 1685.9,471.4 1687.1,469.8 1688.3,468.3 1689.6,466.9 1691.0,465.5 1692.5,464.2 1694.0,463.0 1695.6,461.8 1697.2,460.7 1698.9,459.8 1700.7,458.9 1702.5,458.1 1704.3,457.4 1706.1,456.8 1708.0,456.3 1709.9,455.9 1711.9,455.6 1713.8,455.3 1715.8,455.1 1717.8,455.0 1719.8,454.9 1721.8,454.8 1723.8,454.8 1725.8,454.7 1727.8,454.7 1729.8,454.6 1731.8,454.6 1733.8,454.6 1735.8,454.5 1737.8,454.5 1739.8,454.5 1741.8,454.4 1743.8,454.4 1745.8,454.4 1747.8,454.3 1749.8,454.3 1751.8,454.3 1753.8,454.3 1755.8,454.2 1757.8,454.2 1759.8,454.2 1761.8,454.2 1763.8,454.1 1765.8,454.1 1767.8,454.1 1769.8,454.1 1771.8,454.1 1773.8,454.0 1775.8,454.0 1777.8,454.0 1779.8,454.0 1781.8,454.0 1783.8,453.9 1785.8,453.9 1787.8,453.9 1789.8,453.9 1791.8,453.9 1793.8,453.8 1795.8,453.8 1797.8,453.8 1799.8,453.8 1801.8,453.8 1803.8,453.8 1805.8,453.8 1807.8,453.7 1809.8,453.7 1811.8,453.7 1813.8,453.7 1815.8,453.7 1817.8,453.7 1819.8,453.7 1821.8,453.7 1823.8,453.7 1825.8,453.7 1827.8,453.6 1829.8,453.6 1831.8,453.6 1833.8,453.6 1835.8,453.6 1837.8,453.6 1839.8,453.6 1841.8,453.6 1843.8,453.6 1845.8,453.6 1847.8,453.6 1849.8,453.6 1851.8,453.6 1853.8,453.6 1855.8,453.5 1857.8,453.5 1859.8,453.5 1861.8,453.5 1863.8,453.5 1865.8,453.5 1867.8,453.5 1869.8,453.5 1871.8,453.5 1873.8,453.5 1875.8,453.5 1877.8,453.5 1879.8,453.5 1881.8,453.5 1883.8,453.5 1885.8,453.5 1887.8,453.5 1889.8,453.5 1891.8,453.5 1893.8,453.5 1895.8,453.5 1897.8,453.5 1899.7,453.5 1901.7,453.5 1903.7,453.5 1905.7,453.5 1907.7,453.5 1908.0,453.5" stroke="#0e0ad0"/>
<path d="M174.0,531.5 176.0,531.8 178.0,532.0 179.9,532.3 181.9,532.6 183.9,532.8 185.9,533.1 187.9,533.3 189.9,533.5 191.9,533.7 193.8,534.0 195.8,534.1 197.8,534.3 199.8,534.5 201.8,534.6 203.8,534.8 205.8,534.9 207.8,535.1 209.8,535.2 211.8,535.3 213.8,535.4 215.8,535.5 217.8,535.7 219.8,535.8 221.8,535.9 223.8,536.0 225.8,536.1 227.8,536.1 229.8,536.2 231.8,536.3 233.8,536.4 235.8,536.5 237.8,536.6 239.8,536.7 241.8,536.7 243.8,536.8 245.8,536.9 247.7,537.0 249.7,537.0 251.7,537.1 253.7,537.2 255.7,537.3 257.7,537.3 259.7,537.4 261.7,537.5 263.7,537.5 265.7,537.6 267.7,537.7 269.7,537.7 271.7,537.8 273.7,537.9 275.7,538.0 277.7,538.0 279.7,538.1 281.7,538.2 283.7,538.3 285.7,538.3 287.7,538.4 289.7,538.5 291.7,538.6 293.7,538.6 295.7,538.7 297.7,538.8 299.7,538.9 301.7,539.0 303.7,539.0 305.7,539.1 307.7,539.2 309.7,539.3 311.7,539.3 313.7,539.4 315.7,539.5 317.7,539.6 319.7,539.6 321.7,539.7 323.7,539.8 325.7,539.9 327.7,539.9 329.7,540.0 331.7,540.1 333.7,540.2 335.7,540.2 337.7,540.3 339.7,540.4 341.7,540.5 343.7,540.5 345.7,540.6 347.7,540.7 349.7,540.8 351.7,540.8 353.7,540.9 355.7,541.0 357.7,541.1 359.7,541.2 361.7,541.2 363.7,541.3 365.7,541.4 367.7,541.5 369.7,541.6 371.7,541.6 373.7,541.7 375.7,541.8 377.7,541.9 379.7,542.0 381.7,542.1 383.6,542.2 385.6,542.3 387.6,542.4 389.6,542.4 391.6,542.5 393.6,542.6 395.6,542.7 397.6,542.8 399.6,542.9 401.6,543.0 403.6,543.1 405.6,543.2 407.6,543.3 409.6,543.4 411.6,543.5 413.6,543.6 415.6,543.7 417.6,543.8 419.6,544.0 421.6,544.1 423.6,544.2 425.6,544.3 427.6,544.4 429.6,544.5 431.6,544.6 433.6,544.7 435.6,544.8 437.6,544.9 439.6,545.0 441.6,545.1 443.6,545.2 445.6,545.3 447.6,545.4 449.6,545.5 451.6,545.6 453.6,545.8 455.6,545.9 457.6,546.0 459.5,546.1 461.5,546.2 463.5,546.3 465.5,546.4 467.5,546.5 469.5,546.6 471.5,546.7 473.5,546.8 475.5,546.9 477.5,547.0 479.5,547.0 481.5,547.1 483.5,547.2 485.5,547.3 487.5,547.4 489.5,547.5 491.5,547.6 493.5,547.7 495.5,547.8 497.5,547.8 499.5,547.9 501.5,548.0 503.5,548.1 505.5,548.2 507.5,548.3 509.5,548.3 511.5,548.4 513.5,548.5 515.5,548.6 517.5,548.7 519.5,548.8 521.5,548.9 523.5,549.0 525.5,549.1 527.5,549.2 529.5,549.3 531.5,549.4 533.5,549.5 535.5,549.6 537.5,549.7 539.5,549.8 541.5,549.9 543.5,550.0 545.5,550.1 547.5,550.2 549.4,550.3 551.4,550.5 553.4,550.6 555.4,550.7 557.4,550.9 559.4,551.0 561.4,551.1 563.4,551.3 565.4,551.4 567.4,551.6 569.4,551.8 571.4,552.0 573.4,552.1 575.4,552.3 577.4,552.5 579.3,552.8 581.3,553.0 583.3,553.2 585.3,553.5 587.3,553.8 589.3,554.1 591.2,554.4 593.2,554.7 595.2,555.1 597.1,555.5 599.1,555.9 601.0,556.3 603.0,556.8 604.9,557.2 606.8,557.7 608.8,558.3 610.7,558.8 612.6,559.4 614.5,560.0 616.4,560.6 618.3,561.3 620.2,561.9 622.0,562.6 623.9,563.3 625.8,564.1 627.6,564.9 629.4,565.7 631.2,566.5 633.0,567.4 634.8,568.3 636.6,569.2 638.4,570.1 640.1,571.1 641.9,572.1 643.6,573.1 645.3,574.1 647.0,575.1 648.7,576.1 650.4,577.2 652.1,578.3 653.8,579.4 655.4,580.5 657.1,581.6 658.7,582.7 660.4,583.8 662.1,584.9 663.8,585.9 665.5,586.9 667.2,587.9 668.9,588.9 670.6,589.9 672.4,590.7 674.3,591.5 676.2,592.2 678.1,592.7 680.0,593.0 682.0,592.8 684.0,592.5 686.0,592.1 687.9,591.7 689.9,591.4 691.9,591.2 693.9,591.0 695.8,590.8 697.8,590.6 699.8,590.5 701.8,590.4 703.8,590.3 705.8,590.2 707.8,590.1 709.8,590.0 711.8,590.0 713.8,589.9 715.8,589.9 717.8,589.8 719.8,589.8 721.8,589.7 723.8,589.7 725.8,589.6 727.8,589.6 729.8,589.5 731.8,589.5 733.8,589.5 735.8,589.4 737.8,589.4 739.8,589.3 741.8,589.3 743.8,589.3 745.8,589.2 747.8,589.2 749.8,589.2 751.8,589.1 753.8,589.1 755.8,589.1 757.8,589.1 759.8,589.1 761.8,589.1 763.8,589.0 765.8,589.0 767.8,589.0 769.8,589.1 771.8,589.1 773.8,589.1 775.8,589.1 777.8,589.2 779.8,589.2 781.8,589.3 783.8,589.3 785.8,589.4 787.8,589.5 789.8,589.6 791.8,589.7 793.8,589.8 795.8,589.9 797.8,590.0 799.8,590.1 801.8,590.3 803.7,590.4 805.7,590.5 807.7,590.7 809.7,590.8 811.7,591.0 813.7,591.1 815.7,591.3 817.7,591.5 819.7,591.6 821.7,591.8 823.7,591.9 825.7,592.1 827.7,592.3 829.7,592.4 831.7,592.6 833.7,592.8 835.6,592.9 837.6,593.1 839.6,593.2 841.6,593.4 843.6,593.5 845.6,593.7 847.6,593.8 849.6,593.9 851.6,594.1 853.6,594.2 855.6,594.3 857.6,594.4 859.6,594.5 861.6,594.6 863.6,594.7 865.6,594.8 867.6,594.9 869.6,595.0 871.6,595.0 873.6,595.1 875.6,595.2 877.6,595.2 879.6,595.3 881.6,595.3 883.6,595.4 885.6,595.4 887.6,595.5 889.6,595.6 891.6,595.6 893.6,595.7 895.6,595.7 897.6,595.8 899.6,595.8 901.6,595.9 903.6,595.9 905.6,596.0 907.6,596.0 909.6,596.0 911.6,596.1 913.6,596.1 915.6,596.2 917.6,596.2 919.6,596.2 921.6,596.2 923.6,596.3 925.6,596.3 927.6,596.3 929.6,596.3 931.6,596.3 933.6,596.3 935.6,596.3 937.6,596.2 939.6,596.2 941.5,596.1 943.5,596.0 945.5,595.8 947.5,595.6 949.5,595.4 951.5,595.2 953.5,594.9 955.4,594.6 957.4,594.2 959.3,593.8 961.3,593.3 963.2,592.8 965.1,592.3 967.0,591.7 968.9,591.0 970.7,590.3 972.6,589.6 974.4,588.8 976.2,587.9 978.0,587.0 979.7,586.1 981.4,585.1 983.1,584.0 984.8,583.0 986.4,581.8 988.0,580.6 989.6,579.4 991.1,578.2 992.7,576.9 994.1,575.5 995.6,574.2 997.0,572.8 998.4,571.3 999.7,569.9 1001.1,568.4 1002.4,566.9 1003.7,565.4 1005.0,563.8 1006.2,562.3 1007.5,560.7 1008.7,559.1 1009.9,557.6 1011.1,555.9 1012.2,554.3 1013.4,552.7 1014.4,551.0 1015.5,549.3 1016.5,547.6 1017.5,545.9 1018.5,544.1 1019.5,542.4 1020.4,540.6 1021.3,538.8 1022.1,537.0 1023.0,535.2 1023.8,533.4 1024.6,531.6 1025.4,529.7 1026.2,527.9 1027.0,526.1 1027.8,524.2 1028.6,522.4 1029.4,520.6 1030.2,518.7 1031.0,516.9 1031.8,515.1 1032.6,513.2 1033.5,511.4 1034.3,509.6 1035.2,507.8 1036.0,506.0 1036.9,504.2 1037.8,502.4 1038.6,500.6 1039.5,498.8 1040.4,497.0 1041.3,495.2 1042.2,493.4 1043.1,491.7 1044.0,489.9 1044.9,488.1 1045.8,486.3 1046.7,484.5 1047.6,482.7 1048.5,481.0 1049.5,479.2 1050.4,477.4 1051.2,475.6 1052.1,473.8 1053.0,472.0 1053.9,470.2 1054.8,468.4 1055.7,466.6 1056.6,464.8 1057.5,463.1 1058.4,461.3 1059.3,459.5 1060.2,457.7 1061.1,456.0 1062.1,454.2 1063.1,452.5 1064.2,450.8 1065.3,449.2 1066.4,447.6 1067.7,446.1 1069.0,444.7 1070.3,443.3 1071.6,441.9 1073.1,440.6 1074.6,439.4 1076.3,438.4 1078.0,437.6 1079.9,437.0 1081.9,436.6 1083.9,436.7 1085.7,437.4 1087.5,438.3 1089.1,439.3 1090.7,440.5 1092.2,441.8 1093.6,443.2 1094.9,444.7 1096.2,446.2 1097.4,447.7 1098.6,449.3 1099.7,450.9 1100.8,452.6 1101.8,454.3 1102.7,456.0 1103.6,457.8 1104.5,459.6 1105.3,461.4 1106.1,463.2 1106.9,465.1 1107.7,466.9 1108.4,468.7 1109.2,470.6 1109.9,472.5 1110.7,474.3 1111.4,476.2 1112.1,478.0 1112.9,479.9 1113.6,481.8 1114.4,483.6 1115.1,485.5 1115.8,487.3 1116.6,489.2 1117.3,491.0 1118.1,492.9 1118.8,494.8 1119.5,496.6 1120.3,498.5 1121.0,500.3 1121.8,502.2 1122.5,504.0 1123.3,505.9 1124.1,507.7 1124.9,509.6 1125.7,511.4 1126.5,513.2 1127.3,515.1 1128.1,516.9 1128.9,518.7 1129.7,520.5 1130.5,522.4 1131.4,524.2 1132.2,526.0 1133.1,527.8 1133.9,529.6 1134.8,531.4 1135.7,533.2 1136.6,535.0 1137.5,536.8 1138.4,538.6 1139.3,540.3 1140.2,542.1 1141.1,543.9 1142.1,545.7 1143.0,547.4 1144.0,549.2 1145.0,550.9 1146.0,552.6 1147.0,554.3 1148.1,556.0 1149.2,557.7 1150.3,559.3 1151.5,560.9 1152.7,562.5 1153.9,564.1 1155.2,565.6 1156.5,567.1 1157.9,568.5 1159.3,569.9 1160.7,571.3 1162.2,572.6 1163.7,573.9 1165.3,575.1 1166.9,576.3 1168.5,577.3 1170.2,578.4 1171.9,579.4 1173.7,580.3 1175.5,581.1 1177.3,581.9 1179.2,582.7 1181.0,583.4 1182.9,584.1 1184.8,584.7 1186.7,585.3 1188.6,585.8 1190.5,586.4 1192.5,586.9 1194.4,587.4 1196.3,587.8 1198.3,588.2 1200.2,588.6 1202.2,589.0 1204.2,589.3 1206.2,589.6 1208.1,589.9 1210.1,590.2 1212.1,590.5 1214.1,590.7 1216.1,591.0 1218.0,591.2 1220.0,591.4 1222.0,591.7 1224.0,591.9 1226.0,592.1 1228.0,592.4 1230.0,592.6 1231.9,592.9 1233.9,593.1 1235.9,593.3 1237.9,593.6 1239.9,593.8 1241.9,594.1 1243.9,594.3 1245.8,594.6 1247.8,594.8 1249.8,595.1 1251.8,595.3 1253.8,595.5 1255.8,595.8 1257.8,596.0 1259.7,596.3 1261.7,596.5 1263.7,596.7 1265.7,596.9 1267.7,597.2 1269.7,597.4 1271.7,597.6 1273.6,597.8 1275.6,598.1 1277.6,598.3 1279.6,598.5 1281.6,598.7 1283.6,598.9 1285.6,599.2 1287.6,599.4 1289.6,599.6 1291.5,599.8 1293.5,600.1 1295.5,600.3 1297.5,600.5 1299.5,600.8 1301.5,601.0 1303.5,601.2 1305.4,601.5 1307.4,601.7 1309.4,602.0 1311.4,602.2 1313.4,602.5 1315.4,602.7 1317.3,603.0 1319.3,603.3 1321.3,603.5 1323.3,603.8 1325.3,604.0 1327.3,604.3 1329.2,604.6 1331.2,604.8 1333.2,605.1 1335.2,605.4 1337.2,605.6 1339.2,605.9 1341.1,606.2 1343.1,606.4 1345.1,606.7 1347.1,607.0 1349.1,607.2 1351.0,607.5 1353.0,607.8 1355.0,608.1 1357.0,608.3 1359.0,608.6 1361.0,608.9 1362.9,609.1 1364.9,609.4 1366.9,609.7 1368.9,609.9 1370.9,610.2 1372.8,610.5 1374.8,610.7 1376.8,611.0 1378.8,611.2 1380.8,611.5 1382.8,611.7 1384.8,611.9 1386.7,612.2 1388.7,612.4 1390.7,612.6 1392.7,612.8 1394.7,613.0 1396.7,613.3 1398.7,613.5 1400.7,613.7 1402.6,613.9 1404.6,614.1 1406.6,614.3 1408.6,614.6 1410.6,614.8 1412.6,615.0 1414.6,615.3 1416.5,615.5 1418.5,615.8 1420.5,616.0 1422.5,616.3 1424.5,616.6 1426.5,616.9 1428.4,617.2 1430.4,617.4 1432.4,617.7 1434.4,618.0 1436.3,618.3 1438.3,618.6 1440.3,618.9 1442.3,619.2 1444.3,619.5 1446.2,619.8 1448.2,620.1 1450.2,620.4 1452.2,620.7 1454.1,621.0 1456.1,621.3 1458.1,621.6 1460.1,621.9 1462.1,622.2 1464.0,622.5 1466.0,622.8 1468.0,623.0 1470.0,623.3 1472.0,623.6 1473.9,623.9 1475.9,624.1 1477.9,624.4 1479.9,624.6 1481.9,624.8 1483.9,625.1 1485.9,625.3 1487.8,625.5 1489.8,625.8 1491.8,626.1 1493.8,626.3 1495.7,626.6 1497.7,627.0 1499.7,627.4 1501.6,627.8 1503.5,628.3 1505.4,628.8 1507.3,629.4 1509.2,630.1 1511.1,630.8 1512.9,631.6 1514.7,632.4 1516.4,633.3 1518.1,634.3 1519.8,635.4 1521.4,636.5 1523.0,637.7 1524.5,638.9 1526.0,640.2 1527.5,641.5 1528.9,642.9 1530.3,644.4 1531.7,645.8 1533.0,647.3 1534.3,648.8 1535.6,650.3 1536.9,651.8 1538.2,653.4 1539.4,654.9 1540.7,656.5 1541.9,658.1 1543.1,659.7 1544.3,661.3 1545.5,662.9 1546.7,664.5 1547.8,666.1 1548.9,667.8 1550.1,669.4 1551.1,671.1 1552.2,672.8 1553.3,674.5 1554.3,676.2 1555.4,677.9 1556.4,679.6 1557.4,681.3 1558.4,683.1 1559.5,684.8 1560.5,686.5 1561.5,688.2 1562.6,689.9 1563.7,691.6 1564.8,693.2 1565.9,694.9 1567.0,696.5 1568.2,698.2 1569.3,699.8 1570.5,701.4 1571.7,703.0 1572.9,704.6 1574.1,706.2 1575.4,707.8 1576.6,709.3 1577.9,710.9 1579.1,712.4 1580.4,714.0 1581.6,715.6 1582.9,717.1 1584.1,718.7 1585.3,720.3 1586.5,721.9 1587.7,723.5 1588.8,725.1 1589.9,726.8 1590.9,728.5 1591.9,730.2 1592.8,732.0 1593.7,733.7 1594.6,735.5 1595.4,737.3 1596.3,739.2 1597.1,741.0 1597.8,742.8 1598.6,744.7 1599.3,746.5 1600.0,748.4 1600.7,750.3 1601.4,752.2 1602.1,754.0 1602.8,755.9 1603.4,757.8 1604.1,759.7 1604.7,761.6 1605.3,763.5 1606.0,765.4 1606.6,767.3 1607.2,769.2 1607.8,771.1 1608.4,773.0 1609.0,774.9 1609.6,776.8 1610.2,778.7 1610.8,780.6 1611.4,782.5 1612.0,784.5 1612.6,786.4 1613.2,788.3 1613.8,790.2 1614.4,792.1 1615.0,794.0 1615.6,795.9 1616.2,797.8 1616.8,799.7 1617.4,801.6 1618.0,803.5 1618.6,805.5 1619.1,807.4 1619.7,809.3 1620.3,811.2 1620.9,813.1 1621.4,815.0 1622.0,817.0 1622.6,818.9 1623.1,820.8 1623.7,822.7 1624.3,824.6 1624.9,826.5 1625.6,828.4 1626.3,830.3 1627.0,832.1 1627.8,833.9 1628.7,835.7 1629.7,837.5 1630.7,839.1 1631.9,840.6 1633.4,841.7 1635.0,840.9 1636.3,839.5 1637.4,837.9 1638.5,836.3 1639.5,834.6 1640.5,832.9 1641.5,831.1 1642.4,829.3 1643.2,827.5 1644.0,825.7 1644.7,823.8 1645.4,822.0 1646.1,820.1 1646.7,818.2 1647.3,816.3 1647.9,814.4 1648.5,812.5 1649.0,810.5 1649.5,808.6 1650.0,806.7 1650.5,804.7 1651.0,802.8 1651.5,800.8 1651.9,798.9 1652.3,796.9 1652.8,795.0 1653.2,793.0 1653.6,791.1 1654.0,789.1 1654.4,787.2 1654.7,785.2 1655.1,783.2 1655.4,781.2 1655.7,779.3 1656.1,777.3 1656.4,775.3 1656.7,773.4 1657.0,771.4 1657.3,769.4 1657.6,767.4 1657.9,765.4 1658.2,763.5 1658.6,761.5 1658.9,759.5 1659.2,757.5 1659.5,755.6 1659.8,753.6 1660.1,751.6 1660.4,749.6 1660.7,747.7 1661.0,745.7 1661.3,743.7 1661.6,741.7 1661.9,739.7 1662.1,737.8 1662.4,735.8 1662.7,733.8 1663.0,731.8 1663.2,729.8 1663.5,727.9 1663.8,725.9 1664.1,723.9 1664.4,721.9 1664.6,719.9 1664.9,718.0 1665.2,716.0 1665.5,714.0 1665.8,712.0 1666.0,710.0 1666.3,708.1 1666.6,706.1 1666.9,704.1 1667.2,702.1 1667.5,700.2 1667.8,698.2 1668.1,696.2 1668.4,694.2 1668.8,692.2 1669.1,690.3 1669.4,688.3 1669.7,686.3 1670.0,684.3 1670.3,682.4 1670.7,680.4 1671.0,678.4 1671.3,676.5 1671.7,674.5 1672.0,672.5 1672.4,670.6 1672.8,668.6 1673.2,666.6 1673.6,664.7 1674.1,662.7 1674.6,660.8 1675.1,658.9 1675.6,657.0 1676.2,655.1 1676.8,653.2 1677.5,651.3 1678.2,649.4 1679.0,647.6 1679.8,645.8 1680.6,644.0 1681.5,642.2 1682.5,640.5 1683.5,638.8 1684.6,637.1 1685.7,635.5 1686.9,634.0 1688.2,632.5 1689.5,631.1 1690.9,629.7 1692.4,628.5 1694.0,627.4 1695.6,626.4 1697.3,625.5 1699.1,624.7 1700.9,624.0 1702.7,623.5 1704.6,623.0 1706.6,622.6 1708.5,622.3 1710.5,622.0 1712.5,621.7 1714.4,621.5 1716.4,621.4 1718.4,621.2 1720.4,621.1 1722.4,621.0 1724.4,620.9 1726.4,620.8 1728.4,620.8 1730.4,620.7 1732.4,620.6 1734.4,620.6 1736.4,620.5 1738.4,620.5 1740.4,620.5 1742.4,620.4 1744.4,620.4 1746.4,620.3 1748.4,620.3 1750.4,620.3 1752.4,620.2 1754.4,620.2 1756.4,620.2 1758.4,620.1 1760.4,620.1 1762.4,620.1 1764.4,620.1 1766.4,620.1 1768.4,620.1 1770.4,620.0 1772.4,620.0 1774.4,620.0 1776.4,620.0 1778.4,620.0 1780.4,620.0 1782.4,620.1 1784.4,620.1 1786.4,620.1 1788.4,620.1 1790.4,620.2 1792.4,620.2 1794.4,620.3 1796.4,620.3 1798.4,620.4 1800.4,620.5 1802.4,620.5 1804.4,620.6 1806.4,620.7 1808.4,620.8 1810.4,620.9 1812.4,620.9 1814.4,621.0 1816.4,621.1 1818.4,621.2 1820.4,621.3 1822.4,621.4 1824.4,621.5 1826.4,621.6 1828.4,621.7 1830.4,621.8 1832.4,621.9 1834.4,621.9 1836.4,622.0 1838.4,622.1 1840.4,622.2 1842.4,622.2 1844.4,622.3 1846.4,622.3 1848.4,622.4 1850.4,622.4 1852.4,622.5 1854.4,622.5 1856.4,622.5 1858.4,622.6 1860.4,622.6 1862.4,622.6 1864.4,622.6 1866.4,622.6 1868.4,622.6 1870.4,622.6 1872.4,622.6 1874.4,622.6 1876.4,622.6 1878.4,622.6 1880.4,622.6 1882.4,622.6 1884.3,622.6 1886.3,622.6 1888.3,622.6 1890.3,622.6 1892.3,622.6 1894.3,622.6 1896.3,622.6 1898.3,622.6 1900.3,622.6 1902.3,622.6 1904.3,622.6 1906.3,622.6 1908.0,622.6" stroke="#000000"/>
<path d="M174.0,681.0 176.0,681.1 178.0,681.1 180.0,681.2 182.0,681.3 184.0,681.3 186.0,681.4 188.0,681.5 190.0,681.5 192.0,681.6 194.0,681.7 196.0,681.7 198.0,681.8 200.0,681.9 202.0,681.9 204.0,682.0 206.0,682.1 208.0,682.1 210.0,682.2 212.0,682.3 214.0,682.3 216.0,682.4 218.0,682.5 220.0,682.5 222.0,682.6 224.0,682.7 226.0,682.7 228.0,682.8 230.0,682.9 232.0,682.9 234.0,683.0 236.0,683.1 238.0,683.1 240.0,683.2 242.0,683.3 244.0,683.3 246.0,683.4 248.0,683.5 250.0,683.5 252.0,683.6 254.0,683.7 256.0,683.7 258.0,683.8 260.0,683.9 262.0,683.9 264.0,684.0 265.9,684.1 267.9,684.1 269.9,684.2 271.9,684.2 273.9,684.3 275.9,684.4 277.9,684.4 279.9,684.5 281.9,684.6 283.9,684.6 285.9,684.7 287.9,684.8 289.9,684.8 291.9,684.9 293.9,685.0 295.9,685.0 297.9,685.1 299.9,685.2 301.9,685.2 303.9,685.3 305.9,685.3 307.9,685.4 309.9,685.5 311.9,685.5 313.9,685.6 315.9,685.6 317.9,685.7 319.9,685.8 321.9,685.8 323.9,685.9 325.9,685.9 327.9,686.0 329.9,686.1 331.9,686.1 333.9,686.2 335.9,686.2 337.9,686.3 339.9,686.3 341.9,686.4 343.9,686.5 345.9,686.5 347.9,686.6 349.9,686.6 351.9,686.7 353.9,686.7 355.9,686.8 357.9,686.9 359.9,686.9 361.9,687.0 363.9,687.0 365.9,687.1 367.9,687.2 369.9,687.2 371.9,687.3 373.9,687.3 375.9,687.4 377.9,687.5 379.9,687.5 381.9,687.6 383.9,687.7 385.9,687.7 387.9,687.8 389.9,687.9 391.9,687.9 393.9,688.0 395.9,688.1 397.9,688.1 399.9,688.2 401.9,688.3 403.9,688.4 405.9,688.4 407.9,688.5 409.9,688.6 411.9,688.7 413.9,688.8 415.9,688.8 417.9,688.9 419.9,689.0 421.9,689.1 423.9,689.2 425.9,689.3 427.9,689.4 429.9,689.5 431.9,689.6 433.9,689.7 435.8,689.8 437.8,689.9 439.8,690.0 441.8,690.1 443.8,690.2 445.8,690.3 447.8,690.5 449.8,690.6 451.8,690.7 453.8,690.8 455.8,690.9 457.8,691.1 459.8,691.2 461.8,691.3 463.8,691.4 465.8,691.6 467.8,691.7 469.8,691.8 471.8,691.9 473.8,692.1 475.8,692.2 477.8,692.3 479.8,692.5 481.8,692.6 483.8,692.7 485.8,692.8 487.8,693.0 489.7,693.1 491.7,693.2 493.7,693.3 495.7,693.4 497.7,693.6 499.7,693.7 501.7,693.8 503.7,693.9 505.7,694.0 507.7,694.2 509.7,694.3 511.7,694.4 513.7,694.5 515.7,694.6 517.7,694.7 519.7,694.9 521.7,695.0 523.7,695.1 525.7,695.2 527.7,695.3 529.7,695.4 531.7,695.5 533.7,695.6 535.7,695.8 537.7,695.9 539.7,695.9 541.7,696.0 543.7,696.1 545.7,696.2 547.7,696.3 549.7,696.4 551.7,696.5 553.7,696.5 555.7,696.6 557.6,696.7 559.6,696.8 561.6,696.8 563.6,696.9 565.6,697.0 567.6,697.1 569.6,697.2 571.6,697.4 573.6,697.5 575.6,697.7 577.6,697.8 579.6,698.0 581.6,698.3 583.5,698.6 585.5,698.9 587.5,699.2 589.5,699.5 591.4,699.9 593.4,700.3 595.3,700.7 597.3,701.2 599.2,701.6 601.2,702.0 603.1,702.5 605.1,702.9 607.0,703.4 609.0,703.8 610.9,704.3 612.8,704.8 614.8,705.3 616.7,705.9 618.6,706.5 620.5,707.1 622.4,707.7 624.3,708.4 626.1,709.1 628.0,709.8 629.8,710.6 631.6,711.4 633.4,712.3 635.2,713.2 636.9,714.2 638.7,715.2 640.3,716.2 642.0,717.3 643.6,718.4 645.3,719.6 646.8,720.8 648.4,722.0 650.0,723.3 651.5,724.6 653.0,725.8 654.6,727.1 656.1,728.4 657.7,729.6 659.3,730.8 660.9,731.9 662.5,733.1 664.1,734.2 665.8,735.3 667.5,736.3 669.3,737.1 671.1,737.8 673.0,738.4 675.0,738.7 677.0,738.7 679.0,738.7 681.0,738.7 683.0,738.7 685.0,738.7 687.0,738.6 689.0,738.6 691.0,738.5 693.0,738.4 695.0,738.4 697.0,738.3 699.0,738.2 701.0,738.0 703.0,737.9 705.0,737.8 707.0,737.7 709.0,737.5 711.0,737.4 713.0,737.3 715.0,737.2 716.9,737.1 718.9,737.0 720.9,736.9 722.9,736.8 724.9,736.7 726.9,736.7 728.9,736.6 730.9,736.5 732.9,736.5 734.9,736.4 736.9,736.4 738.9,736.4 740.9,736.4 742.9,736.4 744.9,736.4 746.9,736.4 748.9,736.4 750.9,736.4 752.9,736.4 754.9,736.5 756.9,736.5 758.9,736.5 760.9,736.6 762.9,736.6 764.9,736.6 766.9,736.7 768.9,736.7 770.9,736.8 772.9,736.8 774.9,736.9 776.9,736.9 778.9,737.0 780.9,737.0 782.9,737.1 784.9,737.1 786.9,737.2 788.9,737.2 790.9,737.3 792.9,737.3 794.9,737.4 796.9,737.4 798.9,737.5 800.9,737.5 802.9,737.5 804.9,737.6 806.9,737.6 808.9,737.7 810.9,737.7 812.9,737.7 814.9,737.8 816.9,737.8 818.9,737.9 820.9,737.9 822.9,737.9 824.9,738.0 826.9,738.0 828.9,738.0 830.9,738.1 832.9,738.1 834.9,738.1 836.9,738.2 838.9,738.2 840.9,738.3 842.9,738.3 844.9,738.3 846.9,738.4 848.9,738.4 850.9,738.5 852.9,738.5 854.9,738.6 856.9,738.6 858.9,738.7 860.9,738.7 862.9,738.8 864.9,738.9 866.9,738.9 868.9,739.0 870.9,739.1 872.9,739.2 874.9,739.3 876.9,739.4 878.9,739.6 880.9,739.7 882.9,739.8 884.9,740.0 886.9,740.2 888.9,740.3 890.8,740.5 892.8,740.7 894.8,740.8 896.8,741.0 898.8,741.1 900.8,741.3 902.8,741.4 904.8,741.6 906.8,741.7 908.8,741.8 910.8,741.9 912.8,742.0 914.8,742.1 916.8,742.1 918.8,742.2 920.8,742.2 922.8,742.2 924.8,742.2 926.8,742.2 928.8,742.2 930.8,742.1 932.8,742.1 934.8,742.0 936.8,742.0 938.8,741.9 940.8,741.8 942.8,741.7 944.8,741.6 946.7,741.5 948.7,741.3 950.7,741.1 952.7,740.8 954.7,740.5 956.6,740.2 958.6,739.8 960.5,739.3 962.4,738.8 964.3,738.2 966.2,737.6 968.0,736.9 969.8,736.1 971.6,735.2 973.3,734.3 975.0,733.3 976.7,732.2 978.3,731.1 979.9,729.9 981.4,728.6 982.8,727.3 984.3,725.9 985.6,724.5 987.0,723.0 988.3,721.5 989.5,719.9 990.8,718.4 992.0,716.8 993.2,715.2 994.3,713.6 995.5,712.0 996.7,710.3 997.8,708.7 999.0,707.1 1000.1,705.4 1001.2,703.8 1002.3,702.1 1003.4,700.4 1004.5,698.7 1005.6,697.1 1006.6,695.3 1007.7,693.6 1008.7,691.9 1009.6,690.2 1010.6,688.4 1011.6,686.7 1012.5,684.9 1013.4,683.1 1014.3,681.3 1015.2,679.5 1016.0,677.7 1016.8,675.9 1017.7,674.1 1018.5,672.3 1019.3,670.4 1020.1,668.6 1020.9,666.8 1021.7,664.9 1022.5,663.1 1023.3,661.2 1024.0,659.4 1024.8,657.6 1025.6,655.7 1026.4,653.9 1027.2,652.1 1028.0,650.2 1028.8,648.4 1029.7,646.6 1030.5,644.8 1031.3,642.9 1032.1,641.1 1032.9,639.3 1033.7,637.4 1034.5,635.6 1035.4,633.8 1036.2,632.0 1037.0,630.1 1037.8,628.3 1038.6,626.5 1039.5,624.7 1040.3,622.9 1041.1,621.0 1041.9,619.2 1042.7,617.4 1043.6,615.6 1044.4,613.7 1045.2,611.9 1046.0,610.1 1046.8,608.3 1047.6,606.4 1048.4,604.6 1049.2,602.8 1050.0,600.9 1050.8,599.1 1051.6,597.2 1052.4,595.4 1053.2,593.6 1054.1,591.8 1054.9,590.0 1055.9,588.2 1056.8,586.5 1057.8,584.8 1058.9,583.2 1060.0,581.6 1061.2,580.0 1062.5,578.6 1063.9,577.3 1065.2,575.9 1066.7,574.6 1068.2,573.4 1069.8,572.3 1071.6,571.4 1073.5,570.7 1075.4,570.3 1077.4,570.1 1079.2,570.8 1080.9,571.9 1082.4,573.1 1083.7,574.5 1084.9,576.1 1086.1,577.6 1087.2,579.3 1088.3,581.0 1089.3,582.7 1090.3,584.4 1091.3,586.1 1092.3,587.8 1093.2,589.6 1094.2,591.3 1095.1,593.1 1096.0,594.9 1096.9,596.7 1097.7,598.5 1098.6,600.3 1099.4,602.1 1100.2,604.0 1100.9,605.8 1101.7,607.7 1102.4,609.5 1103.1,611.4 1103.8,613.3 1104.4,615.2 1105.1,617.1 1105.7,619.0 1106.2,620.9 1106.8,622.8 1107.4,624.7 1107.9,626.6 1108.5,628.6 1109.0,630.5 1109.6,632.4 1110.1,634.3 1110.7,636.2 1111.3,638.2 1111.8,640.1 1112.4,642.0 1113.0,643.9 1113.6,645.8 1114.3,647.7 1114.9,649.6 1115.6,651.5 1116.3,653.3 1117.0,655.2 1117.7,657.1 1118.5,658.9 1119.2,660.8 1120.0,662.6 1120.7,664.5 1121.5,666.3 1122.3,668.2 1123.1,670.0 1123.9,671.8 1124.8,673.6 1125.6,675.4 1126.5,677.2 1127.4,679.0 1128.3,680.8 1129.2,682.6 1130.2,684.3 1131.2,686.0 1132.2,687.8 1133.2,689.5 1134.3,691.2 1135.4,692.8 1136.5,694.5 1137.6,696.1 1138.8,697.8 1139.9,699.4 1141.1,701.0 1142.3,702.6 1143.4,704.2 1144.6,705.9 1145.8,707.5 1147.0,709.1 1148.2,710.6 1149.5,712.2 1150.8,713.7 1152.1,715.1 1153.5,716.5 1155.0,717.8 1156.5,719.0 1158.0,720.2 1159.7,721.3 1161.3,722.4 1163.1,723.4 1164.8,724.3 1166.6,725.2 1168.4,726.0 1170.2,726.8 1172.0,727.6 1173.9,728.3 1175.8,729.1 1177.6,729.7 1179.5,730.4 1181.4,731.0 1183.3,731.5 1185.3,732.1 1187.2,732.6 1189.1,733.0 1191.1,733.5 1193.0,733.9 1195.0,734.3 1197.0,734.6 1198.9,735.0 1200.9,735.3 1202.9,735.5 1204.9,735.8 1206.9,736.1 1208.8,736.3 1210.8,736.5 1212.8,736.7 1214.8,736.9 1216.8,737.1 1218.8,737.3 1220.8,737.5 1222.8,737.7 1224.8,737.8 1226.8,738.0 1228.7,738.2 1230.7,738.3 1232.7,738.5 1234.7,738.7 1236.7,738.8 1238.7,739.0 1240.7,739.1 1242.7,739.3 1244.7,739.4 1246.7,739.6 1248.7,739.7 1250.7,739.8 1252.7,740.0 1254.7,740.1 1256.7,740.3 1258.7,740.4 1260.7,740.6 1262.7,740.7 1264.6,740.8 1266.6,741.0 1268.6,741.1 1270.6,741.3 1272.6,741.4 1274.6,741.6 1276.6,741.7 1278.6,741.9 1280.6,742.0 1282.6,742.2 1284.6,742.3 1286.6,742.5 1288.6,742.6 1290.6,742.8 1292.6,742.9 1294.6,743.1 1296.6,743.2 1298.6,743.4 1300.5,743.6 1302.5,743.7 1304.5,743.9 1306.5,744.1 1308.5,744.3 1310.5,744.4 1312.5,744.6 1314.5,744.8 1316.5,745.0 1318.5,745.2 1320.5,745.4 1322.5,745.6 1324.4,745.7 1326.4,745.9 1328.4,746.1 1330.4,746.3 1332.4,746.5 1334.4,746.7 1336.4,746.9 1338.4,747.2 1340.4,747.4 1342.4,747.6 1344.3,747.8 1346.3,748.0 1348.3,748.2 1350.3,748.4 1352.3,748.7 1354.3,748.9 1356.3,749.1 1358.3,749.3 1360.2,749.6 1362.2,749.8 1364.2,750.0 1366.2,750.3 1368.2,750.5 1370.2,750.7 1372.2,750.9 1374.2,751.1 1376.1,751.4 1378.1,751.6 1380.1,751.8 1382.1,752.0 1384.1,752.2 1386.1,752.4 1388.1,752.6 1390.1,752.8 1392.1,753.0 1394.1,753.1 1396.0,753.3 1398.0,753.5 1400.0,753.7 1402.0,753.9 1404.0,754.1 1406.0,754.3 1408.0,754.4 1410.0,754.6 1412.0,754.8 1414.0,755.0 1416.0,755.2 1417.9,755.4 1419.9,755.6 1421.9,755.8 1423.9,756.0 1425.9,756.2 1427.9,756.5 1429.9,756.7 1431.9,756.9 1433.9,757.1 1435.8,757.4 1437.8,757.6 1439.8,757.8 1441.8,758.1 1443.8,758.3 1445.8,758.6 1447.7,758.8 1449.7,759.1 1451.7,759.4 1453.7,759.7 1455.7,759.9 1457.7,760.2 1459.6,760.5 1461.6,760.7 1463.6,761.0 1465.6,761.3 1467.6,761.5 1469.5,761.8 1471.5,762.0 1473.5,762.2 1475.5,762.4 1477.5,762.6 1479.5,762.8 1481.5,763.0 1483.5,763.2 1485.5,763.3 1487.5,763.5 1489.4,763.7 1491.4,763.9 1493.4,764.1 1495.4,764.3 1497.3,764.6 1499.3,765.0 1501.2,765.4 1503.1,765.9 1505.0,766.5 1506.9,767.2 1508.7,767.9 1510.5,768.7 1512.3,769.5 1514.1,770.4 1515.8,771.4 1517.6,772.3 1519.3,773.3 1521.0,774.4 1522.6,775.5 1524.3,776.6 1525.9,777.8 1527.4,779.0 1529.0,780.3 1530.5,781.6 1531.9,783.0 1533.4,784.3 1534.7,785.8 1536.1,787.2 1537.4,788.7 1538.7,790.2 1540.0,791.7 1541.3,793.3 1542.6,794.8 1543.8,796.4 1545.1,797.9 1546.3,799.5 1547.6,801.1 1548.8,802.7 1550.0,804.2 1551.2,805.8 1552.5,807.4 1553.7,809.0 1554.9,810.6 1556.0,812.2 1557.2,813.8 1558.4,815.4 1559.6,817.1 1560.7,818.7 1561.9,820.3 1563.0,822.0 1564.1,823.6 1565.3,825.3 1566.4,826.9 1567.5,828.6 1568.6,830.2 1569.7,831.9 1570.9,833.6 1572.0,835.2 1573.1,836.9 1574.3,838.5 1575.4,840.1 1576.6,841.8 1577.7,843.4 1578.9,845.0 1580.1,846.7 1581.2,848.3 1582.4,849.9 1583.5,851.5 1584.7,853.2 1585.8,854.8 1586.9,856.5 1587.9,858.2 1589.0,859.9 1590.0,861.6 1591.0,863.4 1591.9,865.1 1592.8,866.9 1593.7,868.7 1594.5,870.5 1595.4,872.3 1596.2,874.1 1597.0,876.0 1597.7,877.8 1598.5,879.7 1599.2,881.5 1599.9,883.4 1600.6,885.3 1601.3,887.2 1602.0,889.0 1602.6,890.9 1603.3,892.8 1603.9,894.7 1604.6,896.6 1605.2,898.5 1605.9,900.4 1606.5,902.3 1607.1,904.2 1607.8,906.1 1608.4,908.0 1609.0,909.9 1609.6,911.8 1610.3,913.7 1610.9,915.6 1611.5,917.5 1612.2,919.4 1612.8,921.3 1613.4,923.2 1614.1,925.1 1614.7,926.9 1615.3,928.8 1616.0,930.7 1616.6,932.6 1617.3,934.5 1617.9,936.4 1618.6,938.3 1619.2,940.2 1619.9,942.1 1620.5,944.0 1621.1,945.9 1621.7,947.8 1622.3,949.7 1622.9,951.6 1623.4,953.5 1624.0,955.5 1624.5,957.4 1625.1,959.3 1625.6,961.2 1626.2,963.1 1626.8,965.1 1627.4,967.0 1628.0,968.8 1628.7,970.7 1629.5,972.6 1630.3,974.4 1631.2,976.2 1632.1,977.9 1633.2,979.5 1634.4,981.1 1635.8,982.3 1637.4,982.3 1638.8,981.0 1640.0,979.5 1641.0,977.8 1642.0,976.0 1642.8,974.2 1643.6,972.4 1644.3,970.5 1645.0,968.7 1645.6,966.8 1646.1,964.9 1646.7,962.9 1647.2,961.0 1647.6,959.1 1648.1,957.1 1648.5,955.2 1648.9,953.2 1649.4,951.2 1649.7,949.3 1650.1,947.3 1650.5,945.4 1650.9,943.4 1651.3,941.4 1651.7,939.5 1652.1,937.5 1652.4,935.5 1652.8,933.6 1653.2,931.6 1653.5,929.7 1653.9,927.7 1654.3,925.7 1654.6,923.7 1655.0,921.8 1655.3,919.8 1655.7,917.8 1656.0,915.9 1656.4,913.9 1656.7,911.9 1657.1,910.0 1657.4,908.0 1657.8,906.0 1658.1,904.1 1658.5,902.1 1658.8,900.1 1659.1,898.1 1659.5,896.2 1659.8,894.2 1660.1,892.2 1660.5,890.3 1660.8,888.3 1661.1,886.3 1661.4,884.3 1661.8,882.4 1662.1,880.4 1662.4,878.4 1662.7,876.4 1663.0,874.5 1663.4,872.5 1663.7,870.5 1664.0,868.5 1664.3,866.6 1664.6,864.6 1664.9,862.6 1665.2,860.6 1665.5,858.7 1665.9,856.7 1666.2,854.7 1666.5,852.7 1666.8,850.8 1667.1,848.8 1667.4,846.8 1667.7,844.8 1668.1,842.9 1668.4,840.9 1668.7,838.9 1669.1,836.9 1669.4,835.0 1669.7,833.0 1670.1,831.0 1670.4,829.1 1670.8,827.1 1671.2,825.1 1671.5,823.2 1671.9,821.2 1672.3,819.2 1672.6,817.3 1673.0,815.3 1673.4,813.3 1673.8,811.4 1674.2,809.4 1674.6,807.5 1675.1,805.5 1675.5,803.6 1675.9,801.6 1676.4,799.7 1676.8,797.7 1677.3,795.8 1677.8,793.8 1678.3,791.9 1678.8,790.0 1679.3,788.0 1679.9,786.1 1680.5,784.2 1681.1,782.3 1681.8,780.5 1682.5,778.6 1683.3,776.8 1684.2,775.1 1685.1,773.4 1686.1,771.8 1687.3,770.2 1688.5,768.7 1689.8,767.3 1691.3,766.0 1692.8,764.8 1694.4,763.7 1696.0,762.7 1697.7,761.7 1699.5,760.8 1701.3,760.1 1703.1,759.4 1705.0,758.7 1706.9,758.2 1708.8,757.7 1710.7,757.3 1712.7,756.9 1714.7,756.6 1716.6,756.3 1718.6,756.1 1720.6,755.8 1722.6,755.6 1724.6,755.4 1726.6,755.2 1728.6,755.1 1730.6,754.9 1732.5,754.7 1734.5,754.6 1736.5,754.5 1738.5,754.3 1740.5,754.2 1742.5,754.1 1744.5,754.0 1746.5,753.9 1748.5,753.9 1750.5,753.8 1752.5,753.7 1754.5,753.7 1756.5,753.6 1758.5,753.6 1760.5,753.5 1762.5,753.5 1764.5,753.4 1766.5,753.4 1768.5,753.4 1770.5,753.4 1772.5,753.3 1774.5,753.3 1776.5,753.3 1778.5,753.3 1780.5,753.2 1782.5,753.2 1784.5,753.2 1786.5,753.2 1788.5,753.1 1790.5,753.1 1792.5,753.1 1794.5,753.1 1796.5,753.0 1798.5,753.0 1800.5,753.0 1802.5,753.0 1804.5,753.0 1806.5,752.9 1808.5,752.9 1810.5,752.9 1812.5,752.9 1814.5,752.9 1816.5,752.9 1818.5,752.8 1820.5,752.8 1822.5,752.8 1824.5,752.8 1826.5,752.8 1828.5,752.8 1830.5,752.8 1832.5,752.8 1834.5,752.7 1836.5,752.7 1838.5,752.7 1840.5,752.7 1842.5,752.7 1844.5,752.7 1846.5,752.7 1848.5,752.7 1850.5,752.7 1852.5,752.7 1854.5,752.7 1856.5,752.6 1858.5,752.6 1860.5,752.6 1862.5,752.6 1864.5,752.6 1866.5,752.6 1868.5,752.6 1870.5,752.6 1872.5,752.6 1874.5,752.6 1876.5,752.6 1878.5,752.6 1880.5,752.6 1882.5,752.6 1884.0,752.6" stroke="#e214dc"/>
<path d="M174.0,828.8 176.0,828.8 178.0,828.9 180.0,828.9 182.0,829.0 184.0,829.0 186.0,829.1 188.0,829.1 190.0,829.2 192.0,829.2 194.0,829.3 196.0,829.4 198.0,829.4 200.0,829.5 202.0,829.5 204.0,829.6 206.0,829.6 208.0,829.7 210.0,829.8 212.0,829.8 214.0,829.9 216.0,829.9 218.0,830.0 220.0,830.1 222.0,830.1 224.0,830.2 226.0,830.2 228.0,830.3 230.0,830.4 232.0,830.4 234.0,830.5 236.0,830.5 238.0,830.6 240.0,830.7 242.0,830.7 244.0,830.8 246.0,830.9 248.0,830.9 250.0,831.0 252.0,831.1 254.0,831.1 256.0,831.2 258.0,831.2 260.0,831.3 262.0,831.4 264.0,831.4 266.0,831.5 268.0,831.6 270.0,831.6 272.0,831.7 274.0,831.8 276.0,831.8 278.0,831.9 280.0,832.0 281.9,832.1 283.9,832.1 285.9,832.2 287.9,832.3 289.9,832.3 291.9,832.4 293.9,832.5 295.9,832.5 297.9,832.6 299.9,832.7 301.9,832.7 303.9,832.8 305.9,832.9 307.9,833.0 309.9,833.0 311.9,833.1 313.9,833.2 315.9,833.2 317.9,833.3 319.9,833.4 321.9,833.4 323.9,833.5 325.9,833.6 327.9,833.7 329.9,833.7 331.9,833.8 333.9,833.9 335.9,833.9 337.9,834.0 339.9,834.1 341.9,834.2 343.9,834.2 345.9,834.3 347.9,834.4 349.9,834.5 351.9,834.5 353.9,834.6 355.9,834.7 357.9,834.8 359.9,834.8 361.9,834.9 363.9,835.0 365.9,835.1 367.9,835.2 369.9,835.2 371.9,835.3 373.9,835.4 375.9,835.5 377.9,835.6 379.9,835.6 381.9,835.7 383.9,835.8 385.9,835.9 387.9,836.0 389.9,836.1 391.9,836.2 393.9,836.3 395.9,836.3 397.9,836.4 399.9,836.5 401.9,836.6 403.9,836.7 405.9,836.8 407.9,836.9 409.9,837.0 411.8,837.1 413.8,837.2 415.8,837.3 417.8,837.4 419.8,837.5 421.8,837.6 423.8,837.7 425.8,837.8 427.8,838.0 429.8,838.1 431.8,838.2 433.8,838.3 435.8,838.4 437.8,838.6 439.8,838.7 441.8,838.8 443.8,839.0 445.8,839.1 447.8,839.2 449.8,839.4 451.8,839.5 453.8,839.7 455.8,839.8 457.8,840.0 459.8,840.1 461.7,840.2 463.7,840.4 465.7,840.5 467.7,840.7 469.7,840.8 471.7,841.0 473.7,841.1 475.7,841.3 477.7,841.4 479.7,841.6 481.7,841.7 483.7,841.9 485.7,842.0 487.7,842.1 489.7,842.3 491.7,842.4 493.7,842.6 495.7,842.7 497.7,842.8 499.7,843.0 501.6,843.1 503.6,843.2 505.6,843.3 507.6,843.5 509.6,843.6 511.6,843.7 513.6,843.8 515.6,844.0 517.6,844.1 519.6,844.2 521.6,844.3 523.6,844.4 525.6,844.6 527.6,844.7 529.6,844.8 531.6,844.9 533.6,845.1 535.6,845.2 537.6,845.3 539.6,845.5 541.6,845.6 543.6,845.7 545.6,845.9 547.6,846.0 549.5,846.2 551.5,846.3 553.5,846.4 555.5,846.6 557.5,846.7 559.5,846.9 561.5,847.1 563.5,847.2 565.5,847.4 567.5,847.6 569.5,847.8 571.5,848.0 573.5,848.2 575.4,848.4 577.4,848.6 579.4,848.9 581.4,849.2 583.4,849.5 585.3,849.8 587.3,850.1 589.3,850.5 591.2,850.9 593.2,851.3 595.1,851.8 597.1,852.3 599.0,852.8 600.9,853.3 602.8,853.8 604.8,854.4 606.7,855.0 608.5,855.7 610.4,856.3 612.3,857.0 614.2,857.8 616.0,858.5 617.8,859.3 619.7,860.1 621.5,861.0 623.3,861.9 625.0,862.8 626.8,863.7 628.5,864.7 630.2,865.7 631.9,866.8 633.6,867.8 635.2,869.0 636.8,870.2 638.4,871.4 639.9,872.6 641.4,873.9 642.9,875.3 644.4,876.6 645.8,878.0 647.2,879.5 648.5,880.9 649.9,882.4 651.3,883.8 652.6,885.3 654.0,886.8 655.4,888.2 656.7,889.6 658.2,891.0 659.6,892.3 661.1,893.6 662.6,894.9 664.1,896.1 665.7,897.3 667.3,898.4 669.1,899.3 670.9,900.0 672.8,900.6 674.8,901.0 676.8,901.0 678.8,900.9 680.8,900.8 682.8,900.6 684.8,900.5 686.8,900.4 688.8,900.2 690.7,900.1 692.7,900.0 694.7,899.8 696.7,899.7 698.7,899.5 700.7,899.3 702.7,899.2 704.7,899.0 706.7,898.9 708.7,898.7 710.7,898.6 712.7,898.4 714.7,898.3 716.7,898.2 718.7,898.0 720.7,897.9 722.7,897.8 724.7,897.6 726.7,897.5 728.6,897.4 730.6,897.3 732.6,897.3 734.6,897.2 736.6,897.1 738.6,897.1 740.6,897.1 742.6,897.0 744.6,897.0 746.6,897.0 748.6,897.0 750.6,897.0 752.6,897.0 754.6,897.0 756.6,897.0 758.6,897.0 760.6,897.0 762.6,897.0 764.6,897.0 766.6,897.0 768.6,897.0 770.6,897.0 772.6,897.0 774.6,897.0 776.6,897.0 778.6,897.0 780.6,897.0 782.6,897.0 784.6,897.0 786.6,897.1 788.6,897.1 790.6,897.1 792.6,897.1 794.6,897.2 796.6,897.2 798.6,897.2 800.6,897.3 802.6,897.3 804.6,897.4 806.6,897.4 808.6,897.5 810.6,897.6 812.6,897.6 814.6,897.7 816.6,897.8 818.6,897.8 820.6,897.9 822.6,898.0 824.6,898.1 826.6,898.2 828.6,898.2 830.6,898.3 832.6,898.4 834.6,898.5 836.6,898.6 838.6,898.7 840.6,898.7 842.6,898.8 844.6,898.9 846.6,899.0 848.6,899.1 850.6,899.2 852.6,899.3 854.6,899.4 856.6,899.4 858.6,899.5 860.6,899.6 862.6,899.7 864.6,899.8 866.6,899.9 868.6,900.0 870.6,900.0 872.6,900.1 874.6,900.2 876.6,900.3 878.6,900.4 880.6,900.5 882.6,900.6 884.6,900.7 886.6,900.8 888.6,900.9 890.6,901.0 892.6,901.1 894.5,901.2 896.5,901.4 898.5,901.5 900.5,901.6 902.5,901.7 904.5,901.8 906.5,901.9 908.5,902.0 910.5,902.1 912.5,902.2 914.5,902.3 916.5,902.4 918.5,902.5 920.5,902.5 922.5,902.6 924.5,902.7 926.5,902.7 928.5,902.8 930.5,902.8 932.5,902.8 934.5,902.8 936.5,902.8 938.5,902.7 940.5,902.7 942.5,902.5 944.5,902.4 946.4,902.2 948.4,901.9 950.4,901.6 952.4,901.3 954.3,900.9 956.2,900.5 958.2,900.0 960.1,899.4 961.9,898.8 963.8,898.1 965.6,897.4 967.4,896.5 969.2,895.6 970.9,894.7 972.6,893.6 974.2,892.5 975.8,891.4 977.4,890.1 978.9,888.9 980.4,887.5 981.8,886.2 983.2,884.8 984.6,883.3 985.9,881.8 987.2,880.3 988.4,878.8 989.7,877.2 990.8,875.6 991.9,873.9 993.0,872.3 994.1,870.6 995.1,868.9 996.1,867.1 997.1,865.4 998.0,863.6 998.9,861.9 999.8,860.1 1000.7,858.3 1001.6,856.5 1002.4,854.7 1003.3,852.9 1004.1,851.0 1004.9,849.2 1005.8,847.4 1006.6,845.6 1007.4,843.7 1008.2,841.9 1009.0,840.1 1009.8,838.3 1010.6,836.4 1011.4,834.6 1012.2,832.8 1013.1,831.0 1013.9,829.1 1014.7,827.3 1015.5,825.5 1016.3,823.7 1017.1,821.8 1017.8,820.0 1018.6,818.1 1019.3,816.2 1019.9,814.4 1020.6,812.5 1021.2,810.6 1021.8,808.7 1022.5,806.8 1023.1,804.9 1023.7,803.0 1024.4,801.1 1025.0,799.2 1025.7,797.3 1026.4,795.5 1027.1,793.6 1027.8,791.7 1028.5,789.9 1029.2,788.0 1030.0,786.1 1030.7,784.2 1031.3,782.4 1032.0,780.5 1032.7,778.6 1033.3,776.7 1034.0,774.8 1034.6,772.9 1035.2,771.0 1035.7,769.1 1036.3,767.2 1036.9,765.3 1037.5,763.3 1038.0,761.4 1038.6,759.5 1039.1,757.6 1039.7,755.7 1040.2,753.7 1040.8,751.8 1041.3,749.9 1041.9,748.0 1042.5,746.1 1043.0,744.1 1043.6,742.2 1044.1,740.3 1044.7,738.4 1045.2,736.4 1045.8,734.5 1046.4,732.6 1046.9,730.7 1047.5,728.8 1048.1,726.9 1048.7,725.0 1049.3,723.1 1049.9,721.2 1050.5,719.3 1051.2,717.4 1051.8,715.5 1052.5,713.6 1053.1,711.7 1053.8,709.8 1054.5,707.9 1055.2,706.0 1055.9,704.2 1056.6,702.3 1057.3,700.4 1058.0,698.5 1058.7,696.7 1059.4,694.8 1060.1,693.0 1060.9,691.1 1061.6,689.3 1062.4,687.4 1063.2,685.6 1064.0,683.8 1064.9,682.0 1065.8,680.2 1066.7,678.5 1067.6,676.7 1068.6,675.0 1069.7,673.4 1070.8,671.8 1072.0,670.3 1073.4,668.9 1074.9,667.7 1076.6,666.7 1078.4,665.9 1080.3,665.6 1082.2,666.1 1084.0,666.9 1085.6,668.0 1087.0,669.3 1088.2,670.8 1089.3,672.4 1090.3,674.0 1091.2,675.7 1092.0,677.5 1092.8,679.3 1093.5,681.1 1094.2,683.0 1094.9,684.8 1095.6,686.7 1096.2,688.6 1096.9,690.5 1097.5,692.4 1098.1,694.3 1098.7,696.2 1099.3,698.1 1099.8,700.0 1100.4,702.0 1100.9,703.9 1101.4,705.8 1101.9,707.8 1102.4,709.7 1102.8,711.6 1103.3,713.6 1103.7,715.5 1104.2,717.5 1104.6,719.4 1105.0,721.4 1105.4,723.4 1105.8,725.3 1106.2,727.3 1106.6,729.2 1107.0,731.2 1107.4,733.2 1107.9,735.1 1108.3,737.1 1108.8,739.0 1109.2,740.9 1109.7,742.9 1110.2,744.8 1110.7,746.8 1111.2,748.7 1111.8,750.6 1112.3,752.5 1112.9,754.5 1113.4,756.4 1114.0,758.3 1114.5,760.2 1115.1,762.1 1115.6,764.1 1116.2,766.0 1116.7,767.9 1117.2,769.8 1117.8,771.8 1118.3,773.7 1118.8,775.6 1119.4,777.6 1119.9,779.5 1120.4,781.4 1121.0,783.3 1121.5,785.3 1122.0,787.2 1122.5,789.1 1123.0,791.1 1123.6,793.0 1124.1,794.9 1124.6,796.9 1125.1,798.8 1125.6,800.7 1126.1,802.7 1126.6,804.6 1127.2,806.5 1127.7,808.4 1128.3,810.4 1128.8,812.3 1129.4,814.2 1130.0,816.1 1130.6,818.0 1131.2,819.9 1131.8,821.8 1132.4,823.7 1133.1,825.6 1133.8,827.5 1134.4,829.4 1135.1,831.3 1135.8,833.1 1136.6,835.0 1137.3,836.8 1138.1,838.7 1138.8,840.5 1139.6,842.4 1140.5,844.2 1141.3,846.0 1142.2,847.8 1143.1,849.6 1144.0,851.4 1144.9,853.1 1145.9,854.8 1146.9,856.6 1148.0,858.2 1149.1,859.9 1150.2,861.5 1151.4,863.1 1152.6,864.7 1153.9,866.3 1155.2,867.7 1156.5,869.2 1157.9,870.6 1159.3,872.0 1160.8,873.3 1162.3,874.6 1163.9,875.9 1165.5,877.0 1167.1,878.2 1168.8,879.3 1170.4,880.3 1172.2,881.3 1173.9,882.3 1175.7,883.2 1177.5,884.1 1179.3,884.9 1181.1,885.7 1182.9,886.5 1184.8,887.2 1186.7,887.9 1188.5,888.6 1190.4,889.3 1192.3,889.9 1194.2,890.6 1196.1,891.2 1198.0,891.9 1199.9,892.5 1201.8,893.1 1203.7,893.7 1205.6,894.4 1207.5,895.0 1209.4,895.6 1211.3,896.2 1213.2,896.8 1215.1,897.4 1217.0,898.0 1218.9,898.6 1220.8,899.1 1222.8,899.6 1224.7,900.1 1226.6,900.6 1228.6,901.1 1230.5,901.5 1232.5,901.9 1234.5,902.3 1236.4,902.7 1238.4,903.0 1240.4,903.4 1242.3,903.7 1244.3,904.0 1246.3,904.3 1248.3,904.6 1250.2,904.9 1252.2,905.2 1254.2,905.5 1256.2,905.8 1258.2,906.1 1260.1,906.3 1262.1,906.6 1264.1,906.9 1266.1,907.2 1268.0,907.6 1270.0,907.9 1272.0,908.2 1274.0,908.5 1275.9,908.9 1277.9,909.2 1279.9,909.6 1281.8,909.9 1283.8,910.3 1285.8,910.6 1287.7,911.0 1289.7,911.4 1291.7,911.7 1293.6,912.1 1295.6,912.4 1297.6,912.8 1299.5,913.1 1301.5,913.5 1303.5,913.8 1305.5,914.2 1307.4,914.5 1309.4,914.9 1311.4,915.2 1313.3,915.5 1315.3,915.8 1317.3,916.2 1319.3,916.5 1321.2,916.8 1323.2,917.1 1325.2,917.4 1327.2,917.7 1329.1,918.0 1331.1,918.3 1333.1,918.6 1335.1,918.9 1337.1,919.2 1339.0,919.5 1341.0,919.8 1343.0,920.1 1345.0,920.4 1347.0,920.6 1348.9,920.9 1350.9,921.2 1352.9,921.5 1354.9,921.7 1356.9,922.0 1358.9,922.2 1360.8,922.5 1362.8,922.7 1364.8,923.0 1366.8,923.2 1368.8,923.5 1370.8,923.7 1372.7,923.9 1374.7,924.2 1376.7,924.4 1378.7,924.7 1380.7,925.0 1382.7,925.2 1384.6,925.5 1386.6,925.8 1388.6,926.1 1390.6,926.3 1392.6,926.6 1394.5,926.9 1396.5,927.2 1398.5,927.6 1400.5,927.9 1402.4,928.2 1404.4,928.5 1406.4,928.9 1408.4,929.2 1410.3,929.6 1412.3,929.9 1414.3,930.3 1416.2,930.7 1418.2,931.0 1420.1,931.4 1422.1,931.8 1424.1,932.2 1426.0,932.6 1428.0,933.0 1429.9,933.5 1431.9,933.9 1433.8,934.4 1435.8,934.9 1437.7,935.3 1439.6,935.8 1441.6,936.3 1443.5,936.8 1445.4,937.4 1447.4,937.9 1449.3,938.5 1451.2,939.0 1453.1,939.6 1455.0,940.2 1456.9,940.8 1458.9,941.3 1460.8,941.9 1462.7,942.5 1464.6,943.0 1466.5,943.5 1468.4,944.0 1470.4,944.4 1472.3,944.8 1474.3,945.1 1476.3,945.4 1478.2,945.7 1480.2,945.9 1482.2,946.1 1484.2,946.4 1486.2,946.6 1488.1,946.9 1490.1,947.3 1492.0,947.6 1494.0,948.1 1495.9,948.5 1497.8,949.1 1499.7,949.7 1501.6,950.4 1503.4,951.1 1505.2,951.9 1507.0,952.8 1508.7,953.7 1510.4,954.7 1512.1,955.7 1513.8,956.8 1515.4,958.0 1517.0,959.2 1518.5,960.4 1520.1,961.7 1521.6,963.0 1523.1,964.3 1524.5,965.7 1525.9,967.1 1527.3,968.5 1528.7,970.0 1530.0,971.5 1531.3,973.0 1532.6,974.5 1533.8,976.1 1535.0,977.7 1536.2,979.3 1537.3,981.0 1538.4,982.6 1539.5,984.3 1540.5,986.0 1541.6,987.7 1542.6,989.4 1543.6,991.2 1544.5,992.9 1545.5,994.7 1546.5,996.4 1547.4,998.2 1548.3,999.9 1549.2,1001.7 1550.1,1003.5 1551.0,1005.3 1551.9,1007.1 1552.8,1008.9 1553.6,1010.7 1554.5,1012.5 1555.3,1014.3 1556.1,1016.2 1556.9,1018.0 1557.7,1019.8 1558.5,1021.7 1559.3,1023.5 1560.1,1025.3 1560.9,1027.2 1561.7,1029.0 1562.5,1030.8 1563.3,1032.7 1564.1,1034.5 1564.9,1036.3 1565.7,1038.1 1566.6,1040.0 1567.4,1041.8 1568.3,1043.6 1569.2,1045.4 1570.1,1047.1 1571.0,1048.9 1571.9,1050.7 1572.9,1052.5 1573.8,1054.2 1574.8,1056.0 1575.8,1057.7 1576.8,1059.4 1577.8,1061.2 1578.8,1062.9 1579.9,1064.6 1581.0,1066.2 1582.1,1067.9 1583.2,1069.5 1584.4,1071.2 1585.6,1072.8 1586.8,1074.4 1587.9,1076.0 1589.0,1077.7 1589.9,1079.5 1590.7,1081.3 1591.5,1083.1 1592.2,1085.0 1592.9,1086.9 1593.5,1088.8 1594.1,1090.7 1594.7,1092.6 1595.3,1094.5 1595.9,1096.4 1596.5,1098.3 1597.0,1100.2 1597.6,1102.2 1598.2,1104.1 1598.7,1106.0 1599.2,1107.9 1599.8,1109.9 1600.3,1111.8 1600.8,1113.7 1601.3,1115.7 1601.8,1117.6 1602.3,1119.5 1602.8,1121.5 1603.3,1123.4 1603.8,1125.3 1604.3,1127.3 1604.7,1129.2 1605.2,1131.2 1605.7,1133.1 1606.1,1135.1 1606.6,1137.0 1607.1,1139.0 1607.6,1140.9 1608.0,1142.8 1608.5,1144.8 1609.0,1146.7 1609.5,1148.7 1610.0,1150.6 1610.5,1152.5 1611.0,1154.5 1611.5,1156.4 1612.0,1158.4 1612.5,1160.3 1613.0,1162.2 1613.5,1164.2 1614.0,1166.1 1614.5,1168.0 1614.9,1170.0 1615.4,1171.9 1615.9,1173.9 1616.4,1175.8 1616.9,1177.7 1617.3,1179.7 1617.8,1181.6 1618.3,1183.6 1618.7,1185.5 1619.1,1187.5 1619.6,1189.4 1620.0,1191.4 1620.4,1193.3 1620.8,1195.3 1621.2,1197.3 1621.6,1199.2 1622.0,1201.2 1622.4,1203.1 1622.8,1205.1 1623.2,1207.1 1623.5,1209.0 1623.9,1211.0 1624.3,1213.0 1624.7,1214.9 1625.1,1216.9 1625.4,1218.8 1625.8,1220.8 1626.2,1222.8 1626.6,1224.7 1627.0,1226.7 1627.3,1228.7 1627.7,1230.6 1628.0,1232.6 1628.3,1234.6 1628.6,1236.6 1629.0,1238.5 1629.3,1240.5 1629.6,1242.5 1629.9,1244.4 1630.3,1246.4 1630.8,1248.3 1631.6,1250.0 1632.8,1250.2 1634.1,1248.9 1635.1,1247.3 1636.1,1245.6 1637.0,1243.8 1637.8,1242.0 1638.5,1240.1 1639.2,1238.3 1639.9,1236.4 1640.5,1234.5 1641.1,1232.6 1641.6,1230.7 1642.2,1228.7 1642.7,1226.8 1643.2,1224.9 1643.7,1222.9 1644.1,1221.0 1644.6,1219.0 1645.0,1217.1 1645.4,1215.1 1645.8,1213.2 1646.3,1211.2 1646.6,1209.3 1647.0,1207.3 1647.4,1205.3 1647.8,1203.4 1648.2,1201.4 1648.5,1199.4 1648.9,1197.5 1649.3,1195.5 1649.6,1193.5 1650.0,1191.6 1650.3,1189.6 1650.7,1187.6 1651.0,1185.7 1651.4,1183.7 1651.7,1181.7 1652.1,1179.8 1652.4,1177.8 1652.8,1175.8 1653.1,1173.8 1653.5,1171.9 1653.8,1169.9 1654.2,1167.9 1654.5,1166.0 1654.8,1164.0 1655.1,1162.0 1655.5,1160.0 1655.8,1158.1 1656.1,1156.1 1656.4,1154.1 1656.7,1152.1 1657.0,1150.2 1657.2,1148.2 1657.5,1146.2 1657.8,1144.2 1658.1,1142.2 1658.3,1140.3 1658.6,1138.3 1658.8,1136.3 1659.1,1134.3 1659.3,1132.3 1659.5,1130.3 1659.7,1128.3 1660.0,1126.3 1660.2,1124.4 1660.4,1122.4 1660.6,1120.4 1660.8,1118.4 1661.0,1116.4 1661.1,1114.4 1661.3,1112.4 1661.5,1110.4 1661.7,1108.4 1661.9,1106.4 1662.1,1104.5 1662.3,1102.5 1662.4,1100.5 1662.6,1098.5 1662.8,1096.5 1663.0,1094.5 1663.2,1092.5 1663.4,1090.5 1663.6,1088.5 1663.8,1086.5 1664.0,1084.5 1664.2,1082.6 1664.4,1080.6 1664.6,1078.6 1664.8,1076.6 1665.0,1074.6 1665.2,1072.6 1665.5,1070.6 1665.7,1068.6 1665.9,1066.6 1666.1,1064.7 1666.3,1062.7 1666.5,1060.7 1666.8,1058.7 1667.0,1056.7 1667.2,1054.7 1667.4,1052.7 1667.7,1050.7 1667.9,1048.8 1668.2,1046.8 1668.4,1044.8 1668.6,1042.8 1668.9,1040.8 1669.2,1038.8 1669.4,1036.9 1669.7,1034.9 1670.0,1032.9 1670.3,1030.9 1670.6,1028.9 1670.9,1027.0 1671.2,1025.0 1671.5,1023.0 1671.8,1021.0 1672.2,1019.1 1672.5,1017.1 1672.9,1015.1 1673.2,1013.2 1673.6,1011.2 1673.9,1009.2 1674.3,1007.3 1674.7,1005.3 1675.1,1003.3 1675.6,1001.4 1676.0,999.4 1676.5,997.5 1676.9,995.6 1677.4,993.6 1678.0,991.7 1678.5,989.8 1679.1,987.9 1679.7,986.0 1680.4,984.1 1681.0,982.2 1681.7,980.3 1682.5,978.5 1683.2,976.6 1684.0,974.8 1684.9,973.0 1685.7,971.2 1686.6,969.4 1687.5,967.6 1688.5,965.9 1689.5,964.2 1690.5,962.5 1691.6,960.9 1692.8,959.3 1694.0,957.7 1695.3,956.2 1696.6,954.8 1698.1,953.5 1699.6,952.3 1701.1,951.1 1702.8,950.1 1704.5,949.1 1706.2,948.2 1708.0,947.4 1709.8,946.7 1711.7,946.1 1713.6,945.5 1715.5,945.0 1717.4,944.5 1719.4,944.1 1721.3,943.7 1723.3,943.3 1725.3,943.0 1727.2,942.7 1729.2,942.4 1731.2,942.2 1733.2,941.9 1735.2,941.6 1737.2,941.4 1739.1,941.2 1741.1,940.9 1743.1,940.7 1745.1,940.5 1747.1,940.3 1749.1,940.1 1751.1,939.9 1753.1,939.7 1755.1,939.5 1757.0,939.3 1759.0,939.2 1761.0,939.0 1763.0,938.9 1765.0,938.7 1767.0,938.6 1769.0,938.4 1771.0,938.3 1773.0,938.2 1775.0,938.1 1777.0,938.0 1779.0,937.9 1781.0,937.8 1783.0,937.8 1785.0,937.7 1787.0,937.6 1789.0,937.6 1791.0,937.5 1793.0,937.5 1795.0,937.5 1797.0,937.5 1799.0,937.4 1801.0,937.4 1803.0,937.4 1805.0,937.4 1807.0,937.4 1809.0,937.4 1811.0,937.4 1813.0,937.4 1815.0,937.4 1817.0,937.4 1819.0,937.4 1821.0,937.4 1823.0,937.4 1825.0,937.4 1827.0,937.4 1829.0,937.4 1831.0,937.4 1833.0,937.4 1835.0,937.5 1837.0,937.5 1839.0,937.5 1841.0,937.5 1843.0,937.5 1845.0,937.5 1847.0,937.5 1849.0,937.5 1851.0,937.5 1853.0,937.6 1855.0,937.6 1857.0,937.6 1859.0,937.6 1861.0,937.6 1863.0,937.7 1865.0,937.7 1867.0,937.7 1869.0,937.7 1871.0,937.8 1873.0,937.8 1875.0,937.8 1877.0,937.9 1879.0,937.9 1881.0,937.9 1882.9,938.0 1884.0,938.0" stroke="#167215"/>
</g>
<rect x="170.5" y="35" width="1739.5" height="1285" fill="none" stroke="#000" stroke-width="9.5"/>
<g stroke="#000" stroke-width="9.5">
<line x1="538" y1="1320" x2="538" y2="1346"/>
<line x1="996" y1="1320" x2="996" y2="1346"/>
<line x1="1453" y1="1320" x2="1453" y2="1346"/>
<line x1="1909.5" y1="1320" x2="1909.5" y2="1346"/>
</g>
<g class="t" font-size="84.5" text-anchor="middle">
<text x="538.1" y="1428">50</text>
<text x="997.3" y="1428">100</text>
<text x="1455" y="1428">150</text>
<text x="1910.1" y="1428">200</text>
</g>
<g class="t" font-size="67">
<text transform="translate(190.5,205) scale(1.0196,1)">Pure PLA</text>
<text transform="translate(183.3,367) scale(1.0316,1)">5wt%TPSiU</text>
<text transform="translate(182.9,530) scale(1.031,1)">10wt%TPSiU</text>
<text transform="translate(179.6,663) scale(1.033,1)">15wt%TPSiU</text>
<text transform="translate(176.7,813.5) scale(1.028,1)">20wt%TPSiU</text>
</g>
<text class="t" font-size="83.44" x="683.3" y="1561.5">Temperature</text>
<text class="c" font-size="66.6" transform="translate(1131.5,1556.7) scale(1.346,1)">（</text>
<text font-family="'Liberation Serif',serif" font-size="93" x="1225.2" y="1568.4" fill="#000">°</text>
<text class="t" font-size="86.5" x="1256.7" y="1562.5">C</text>
<text class="c" font-size="66.6" transform="translate(1320.7,1556.7) scale(1.346,1)">）</text>
<g transform="translate(101,1054.6) rotate(-90)">
<text class="t" font-size="82" transform="scale(0.98,1)">Exo</text>
<text class="c" font-size="68.5" transform="translate(119.2,-3.5) scale(1.379,1)">（</text>
<text class="t" font-size="82" transform="translate(219.2,0) scale(0.98,1)">W/g</text>
<text class="c" font-size="71.7" transform="translate(367.3,-2.8) scale(1.30,1)">）</text>
</g>
<path d="M74.5,413 L93.5,487 L79.5,487 L79.5,610 L69.5,610 L69.5,487 L55.5,487 Z" fill="#000"/>
</svg>
</body></html>
